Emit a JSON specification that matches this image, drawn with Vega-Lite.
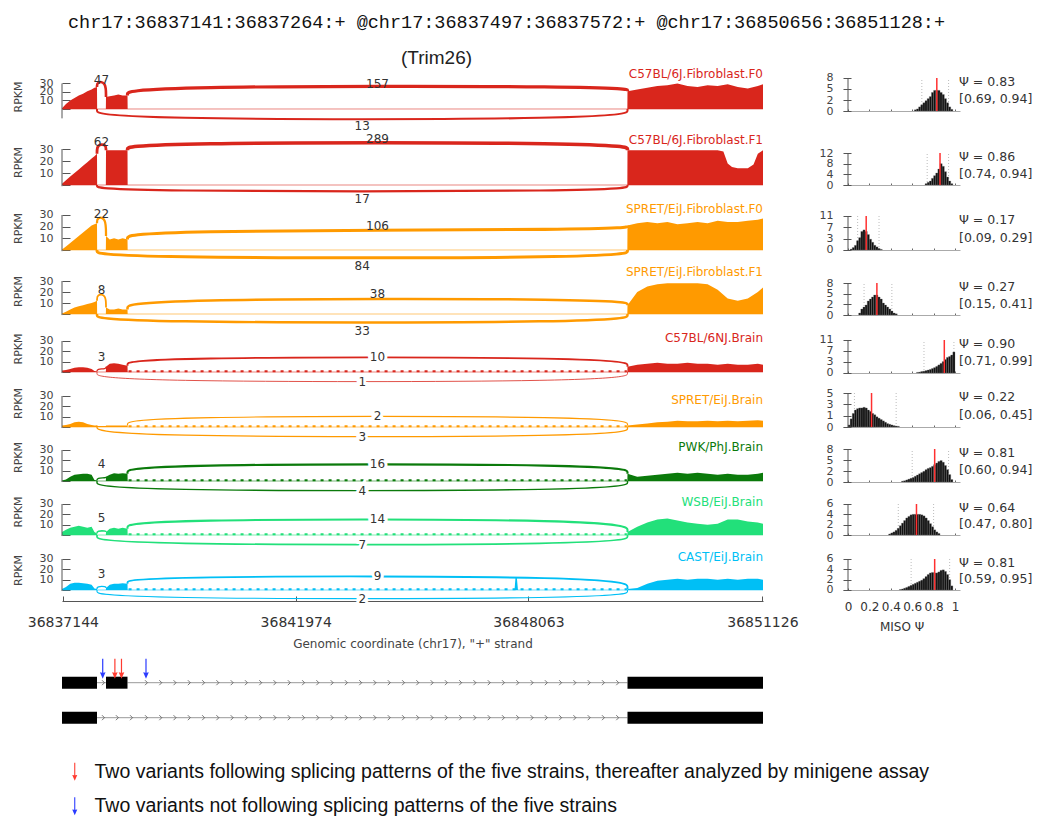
{
"$schema":"https://vega.github.io/schema/vega-lite/v6.json",
"padding":{"left":12,"top":12,"right":0,"bottom":0},
"config":{"view":{"stroke":null},"font":"DejaVu Sans","axis":{"grid":false}},
"title":{"text":"chr17:36837141:36837264:+ @chr17:36837497:36837572:+ @chr17:36850656:36851128:+","font":"Liberation Mono","fontSize":18.5,"fontWeight":"normal","color":"#111","anchor":"start","frame":"group","dx":6,"offset":18},
"datasets":{
"samples":[
{"r":"r1","name":"C57BL/6J.Fibroblast.F0"},{"r":"r2","name":"C57BL/6J.Fibroblast.F1"},{"r":"r3","name":"SPRET/EiJ.Fibroblast.F0"},{"r":"r4","name":"SPRET/EiJ.Fibroblast.F1"},{"r":"r5","name":"C57BL/6NJ.Brain"},{"r":"r6","name":"SPRET/EiJ.Brain"},{"r":"r7","name":"PWK/PhJ.Brain"},{"r":"r8","name":"WSB/EiJ.Brain"},{"r":"r9","name":"CAST/EiJ.Brain"}],
"cov":[
{"r":"r1","x":36837141,"y":1},{"r":"r1","x":36837155,"y":6},{"r":"r1","x":36837170,"y":10},{"r":"r1","x":36837185,"y":13},{"r":"r1","x":36837200,"y":16},{"r":"r1","x":36837215,"y":18},{"r":"r1","x":36837230,"y":21},{"r":"r1","x":36837245,"y":23},{"r":"r1","x":36837255,"y":25},{"r":"r1","x":36837264,"y":26},{"r":"r1","x":36837268,"y":0},{"r":"r1","x":36837493,"y":0},{"r":"r1","x":36837497,"y":14},{"r":"r1","x":36837510,"y":15},{"r":"r1","x":36837525,"y":16},{"r":"r1","x":36837540,"y":17},{"r":"r1","x":36837555,"y":16},{"r":"r1","x":36837572,"y":16},{"r":"r1","x":36837576,"y":0},{"r":"r1","x":36850652,"y":0},{"r":"r1","x":36850656,"y":21},{"r":"r1","x":36850690,"y":23},{"r":"r1","x":36850725,"y":25},{"r":"r1","x":36850760,"y":27},{"r":"r1","x":36850795,"y":28},{"r":"r1","x":36850830,"y":30},{"r":"r1","x":36850865,"y":27},{"r":"r1","x":36850900,"y":26},{"r":"r1","x":36850935,"y":28},{"r":"r1","x":36850970,"y":27},{"r":"r1","x":36851005,"y":29},{"r":"r1","x":36851040,"y":26},{"r":"r1","x":36851075,"y":24},{"r":"r1","x":36851110,"y":27},{"r":"r1","x":36851128,"y":29},
{"r":"r2","x":36837141,"y":1},{"r":"r2","x":36837155,"y":4},{"r":"r2","x":36837170,"y":7},{"r":"r2","x":36837185,"y":10},{"r":"r2","x":36837200,"y":13},{"r":"r2","x":36837215,"y":16},{"r":"r2","x":36837230,"y":19},{"r":"r2","x":36837245,"y":22},{"r":"r2","x":36837255,"y":24},{"r":"r2","x":36837264,"y":26},{"r":"r2","x":36837268,"y":0},{"r":"r2","x":36837493,"y":0},{"r":"r2","x":36837497,"y":29},{"r":"r2","x":36837510,"y":29},{"r":"r2","x":36837525,"y":29},{"r":"r2","x":36837540,"y":29},{"r":"r2","x":36837555,"y":29},{"r":"r2","x":36837572,"y":29},{"r":"r2","x":36837576,"y":0},{"r":"r2","x":36850652,"y":0},{"r":"r2","x":36850656,"y":29},{"r":"r2","x":36850690,"y":29},{"r":"r2","x":36850725,"y":29},{"r":"r2","x":36850760,"y":29},{"r":"r2","x":36850795,"y":29},{"r":"r2","x":36850830,"y":29},{"r":"r2","x":36850865,"y":29},{"r":"r2","x":36850900,"y":29},{"r":"r2","x":36850935,"y":29},{"r":"r2","x":36850970,"y":29},{"r":"r2","x":36850990,"y":28},{"r":"r2","x":36851005,"y":18},{"r":"r2","x":36851020,"y":15},{"r":"r2","x":36851040,"y":14},{"r":"r2","x":36851075,"y":14},{"r":"r2","x":36851095,"y":17},{"r":"r2","x":36851110,"y":26},{"r":"r2","x":36851128,"y":29},
{"r":"r3","x":36837141,"y":0.5},{"r":"r3","x":36837155,"y":3},{"r":"r3","x":36837170,"y":6},{"r":"r3","x":36837185,"y":9},{"r":"r3","x":36837200,"y":12},{"r":"r3","x":36837215,"y":15},{"r":"r3","x":36837230,"y":18},{"r":"r3","x":36837245,"y":21},{"r":"r3","x":36837255,"y":22},{"r":"r3","x":36837264,"y":23},{"r":"r3","x":36837268,"y":0},{"r":"r3","x":36837493,"y":0},{"r":"r3","x":36837497,"y":12},{"r":"r3","x":36837510,"y":9},{"r":"r3","x":36837525,"y":10},{"r":"r3","x":36837540,"y":9},{"r":"r3","x":36837555,"y":10},{"r":"r3","x":36837572,"y":9},{"r":"r3","x":36837576,"y":0},{"r":"r3","x":36850652,"y":0},{"r":"r3","x":36850656,"y":21},{"r":"r3","x":36850690,"y":23},{"r":"r3","x":36850725,"y":24},{"r":"r3","x":36850760,"y":23},{"r":"r3","x":36850795,"y":24},{"r":"r3","x":36850830,"y":22},{"r":"r3","x":36850865,"y":23},{"r":"r3","x":36850900,"y":24},{"r":"r3","x":36850935,"y":23},{"r":"r3","x":36850970,"y":25},{"r":"r3","x":36851005,"y":24},{"r":"r3","x":36851040,"y":24},{"r":"r3","x":36851075,"y":25},{"r":"r3","x":36851110,"y":26},{"r":"r3","x":36851128,"y":27},
{"r":"r4","x":36837141,"y":0.5},{"r":"r4","x":36837155,"y":2},{"r":"r4","x":36837170,"y":4},{"r":"r4","x":36837185,"y":6},{"r":"r4","x":36837200,"y":7},{"r":"r4","x":36837215,"y":8},{"r":"r4","x":36837230,"y":9},{"r":"r4","x":36837245,"y":10},{"r":"r4","x":36837255,"y":11},{"r":"r4","x":36837264,"y":12},{"r":"r4","x":36837268,"y":0},{"r":"r4","x":36837493,"y":0},{"r":"r4","x":36837497,"y":6},{"r":"r4","x":36837510,"y":4},{"r":"r4","x":36837525,"y":4},{"r":"r4","x":36837540,"y":5},{"r":"r4","x":36837555,"y":4},{"r":"r4","x":36837572,"y":4},{"r":"r4","x":36837576,"y":0},{"r":"r4","x":36850652,"y":0},{"r":"r4","x":36850656,"y":8},{"r":"r4","x":36850690,"y":20},{"r":"r4","x":36850725,"y":25},{"r":"r4","x":36850760,"y":27},{"r":"r4","x":36850795,"y":28},{"r":"r4","x":36850830,"y":28},{"r":"r4","x":36850865,"y":28},{"r":"r4","x":36850900,"y":28},{"r":"r4","x":36850935,"y":27},{"r":"r4","x":36850970,"y":22},{"r":"r4","x":36851005,"y":14},{"r":"r4","x":36851040,"y":12},{"r":"r4","x":36851075,"y":14},{"r":"r4","x":36851110,"y":20},{"r":"r4","x":36851128,"y":24},
{"r":"r5","x":36837141,"y":1.5},{"r":"r5","x":36837155,"y":2},{"r":"r5","x":36837170,"y":3},{"r":"r5","x":36837185,"y":4},{"r":"r5","x":36837200,"y":4.5},{"r":"r5","x":36837215,"y":4.5},{"r":"r5","x":36837230,"y":4},{"r":"r5","x":36837245,"y":3},{"r":"r5","x":36837255,"y":1},{"r":"r5","x":36837264,"y":0.5},{"r":"r5","x":36837268,"y":0},{"r":"r5","x":36837493,"y":0},{"r":"r5","x":36837497,"y":5},{"r":"r5","x":36837510,"y":8},{"r":"r5","x":36837525,"y":8.5},{"r":"r5","x":36837540,"y":8},{"r":"r5","x":36837555,"y":7},{"r":"r5","x":36837572,"y":6},{"r":"r5","x":36837576,"y":0},{"r":"r5","x":36850652,"y":0},{"r":"r5","x":36850656,"y":5},{"r":"r5","x":36850690,"y":7},{"r":"r5","x":36850725,"y":8},{"r":"r5","x":36850760,"y":9},{"r":"r5","x":36850795,"y":8},{"r":"r5","x":36850830,"y":8},{"r":"r5","x":36850865,"y":9},{"r":"r5","x":36850900,"y":8},{"r":"r5","x":36850935,"y":8},{"r":"r5","x":36850970,"y":7},{"r":"r5","x":36851005,"y":8},{"r":"r5","x":36851040,"y":7},{"r":"r5","x":36851075,"y":7},{"r":"r5","x":36851110,"y":8},{"r":"r5","x":36851128,"y":7},
{"r":"r6","x":36837141,"y":1.5},{"r":"r6","x":36837155,"y":2},{"r":"r6","x":36837170,"y":3},{"r":"r6","x":36837185,"y":4.5},{"r":"r6","x":36837200,"y":5},{"r":"r6","x":36837215,"y":4.5},{"r":"r6","x":36837230,"y":3},{"r":"r6","x":36837245,"y":2},{"r":"r6","x":36837255,"y":1.5},{"r":"r6","x":36837264,"y":1.5},{"r":"r6","x":36837268,"y":1},{"r":"r6","x":36837493,"y":1},{"r":"r6","x":36837497,"y":1.5},{"r":"r6","x":36837510,"y":1.5},{"r":"r6","x":36837525,"y":1.5},{"r":"r6","x":36837540,"y":1.5},{"r":"r6","x":36837555,"y":1.5},{"r":"r6","x":36837572,"y":1.5},{"r":"r6","x":36837576,"y":0},{"r":"r6","x":36850652,"y":0},{"r":"r6","x":36850656,"y":1.5},{"r":"r6","x":36850690,"y":2.5},{"r":"r6","x":36850725,"y":3.5},{"r":"r6","x":36850760,"y":4.5},{"r":"r6","x":36850795,"y":5},{"r":"r6","x":36850830,"y":6},{"r":"r6","x":36850865,"y":5.5},{"r":"r6","x":36850900,"y":5.5},{"r":"r6","x":36850935,"y":6},{"r":"r6","x":36850970,"y":5.5},{"r":"r6","x":36851005,"y":6},{"r":"r6","x":36851040,"y":5.5},{"r":"r6","x":36851075,"y":6},{"r":"r6","x":36851110,"y":6.5},{"r":"r6","x":36851128,"y":6},
{"r":"r7","x":36837141,"y":0.5},{"r":"r7","x":36837155,"y":1.5},{"r":"r7","x":36837170,"y":4},{"r":"r7","x":36837185,"y":6},{"r":"r7","x":36837200,"y":6.5},{"r":"r7","x":36837215,"y":7},{"r":"r7","x":36837230,"y":7},{"r":"r7","x":36837245,"y":6},{"r":"r7","x":36837255,"y":1},{"r":"r7","x":36837264,"y":0.5},{"r":"r7","x":36837268,"y":0},{"r":"r7","x":36837493,"y":0},{"r":"r7","x":36837497,"y":4},{"r":"r7","x":36837510,"y":6},{"r":"r7","x":36837525,"y":7.5},{"r":"r7","x":36837540,"y":7},{"r":"r7","x":36837555,"y":7.5},{"r":"r7","x":36837572,"y":7},{"r":"r7","x":36837576,"y":0},{"r":"r7","x":36850652,"y":0},{"r":"r7","x":36850656,"y":7},{"r":"r7","x":36850690,"y":4},{"r":"r7","x":36850725,"y":5},{"r":"r7","x":36850760,"y":6},{"r":"r7","x":36850795,"y":7},{"r":"r7","x":36850830,"y":8},{"r":"r7","x":36850865,"y":7},{"r":"r7","x":36850900,"y":8},{"r":"r7","x":36850935,"y":7},{"r":"r7","x":36850970,"y":6},{"r":"r7","x":36851005,"y":7},{"r":"r7","x":36851040,"y":6},{"r":"r7","x":36851075,"y":6},{"r":"r7","x":36851110,"y":7},{"r":"r7","x":36851128,"y":8},
{"r":"r8","x":36837141,"y":3},{"r":"r8","x":36837155,"y":5},{"r":"r8","x":36837170,"y":7},{"r":"r8","x":36837185,"y":8},{"r":"r8","x":36837200,"y":9},{"r":"r8","x":36837215,"y":8},{"r":"r8","x":36837230,"y":7},{"r":"r8","x":36837245,"y":8},{"r":"r8","x":36837255,"y":3},{"r":"r8","x":36837264,"y":1.5},{"r":"r8","x":36837268,"y":0},{"r":"r8","x":36837493,"y":0},{"r":"r8","x":36837497,"y":3},{"r":"r8","x":36837510,"y":6},{"r":"r8","x":36837525,"y":7},{"r":"r8","x":36837540,"y":6},{"r":"r8","x":36837555,"y":7},{"r":"r8","x":36837572,"y":6},{"r":"r8","x":36837576,"y":0},{"r":"r8","x":36850652,"y":0},{"r":"r8","x":36850656,"y":3},{"r":"r8","x":36850690,"y":8},{"r":"r8","x":36850725,"y":12},{"r":"r8","x":36850760,"y":15},{"r":"r8","x":36850795,"y":16},{"r":"r8","x":36850830,"y":14},{"r":"r8","x":36850865,"y":12},{"r":"r8","x":36850900,"y":11},{"r":"r8","x":36850935,"y":10},{"r":"r8","x":36850970,"y":11},{"r":"r8","x":36851005,"y":15},{"r":"r8","x":36851040,"y":15},{"r":"r8","x":36851075,"y":13},{"r":"r8","x":36851110,"y":12},{"r":"r8","x":36851128,"y":11},
{"r":"r9","x":36837141,"y":1},{"r":"r9","x":36837155,"y":3},{"r":"r9","x":36837170,"y":6},{"r":"r9","x":36837185,"y":7},{"r":"r9","x":36837200,"y":7},{"r":"r9","x":36837215,"y":6.5},{"r":"r9","x":36837230,"y":6},{"r":"r9","x":36837245,"y":5},{"r":"r9","x":36837255,"y":1.5},{"r":"r9","x":36837264,"y":1},{"r":"r9","x":36837268,"y":0},{"r":"r9","x":36837493,"y":0},{"r":"r9","x":36837497,"y":2},{"r":"r9","x":36837510,"y":5},{"r":"r9","x":36837525,"y":6},{"r":"r9","x":36837540,"y":6},{"r":"r9","x":36837555,"y":6.5},{"r":"r9","x":36837572,"y":6},{"r":"r9","x":36837576,"y":0},{"r":"r9","x":36847700,"y":0},{"r":"r9","x":36847725,"y":12},{"r":"r9","x":36847760,"y":12},{"r":"r9","x":36847790,"y":0},{"r":"r9","x":36850652,"y":0},{"r":"r9","x":36850656,"y":1},{"r":"r9","x":36850690,"y":2},{"r":"r9","x":36850725,"y":6},{"r":"r9","x":36850760,"y":9},{"r":"r9","x":36850795,"y":10},{"r":"r9","x":36850830,"y":11},{"r":"r9","x":36850865,"y":10},{"r":"r9","x":36850900,"y":11},{"r":"r9","x":36850935,"y":11},{"r":"r9","x":36850970,"y":10},{"r":"r9","x":36851005,"y":11},{"r":"r9","x":36851040,"y":10},{"r":"r9","x":36851075,"y":11},{"r":"r9","x":36851110,"y":11},{"r":"r9","x":36851128,"y":10}],
"arcs":[
{"r":"r1","j":"a","k":0,"x":36837264,"y":26,"n":47},{"r":"r1","j":"a","k":1,"x":36837264,"y":32,"n":47},{"r":"r1","j":"a","k":2,"x":36837497,"y":32,"n":47},{"r":"r1","j":"a","k":3,"x":36837497,"y":14,"n":47},
{"r":"r1","j":"b","k":0,"x":36837572,"y":16,"n":157},{"r":"r1","j":"b","k":1,"x":36837572,"y":27,"n":157},{"r":"r1","j":"b","k":2,"x":36850656,"y":27,"n":157},{"r":"r1","j":"b","k":3,"x":36850656,"y":21,"n":157},
{"r":"r1","j":"c","k":0,"x":36837264,"y":0,"n":13},{"r":"r1","j":"c","k":1,"x":36837264,"y":-12.5,"n":13},{"r":"r1","j":"c","k":2,"x":36850656,"y":-12.5,"n":13},{"r":"r1","j":"c","k":3,"x":36850656,"y":0,"n":13},
{"r":"r2","j":"a","k":0,"x":36837264,"y":26,"n":62},{"r":"r2","j":"a","k":1,"x":36837264,"y":34,"n":62},{"r":"r2","j":"a","k":2,"x":36837497,"y":34,"n":62},{"r":"r2","j":"a","k":3,"x":36837497,"y":29,"n":62},
{"r":"r2","j":"b","k":0,"x":36837572,"y":29,"n":289},{"r":"r2","j":"b","k":1,"x":36837572,"y":35.5,"n":289},{"r":"r2","j":"b","k":2,"x":36850656,"y":35.5,"n":289},{"r":"r2","j":"b","k":3,"x":36850656,"y":29,"n":289},
{"r":"r2","j":"c","k":0,"x":36837264,"y":0,"n":17},{"r":"r2","j":"c","k":1,"x":36837264,"y":-5.5,"n":17},{"r":"r2","j":"c","k":2,"x":36850656,"y":-5.5,"n":17},{"r":"r2","j":"c","k":3,"x":36850656,"y":0,"n":17},
{"r":"r3","j":"a","k":0,"x":36837264,"y":23,"n":22},{"r":"r3","j":"a","k":1,"x":36837264,"y":28,"n":22},{"r":"r3","j":"a","k":2,"x":36837497,"y":28,"n":22},{"r":"r3","j":"a","k":3,"x":36837497,"y":12,"n":22},
{"r":"r3","j":"b","k":0,"x":36837572,"y":9,"n":106},{"r":"r3","j":"b","k":1,"x":36837572,"y":17,"n":106},{"r":"r3","j":"b","k":2,"x":36850656,"y":17,"n":106},{"r":"r3","j":"b","k":3,"x":36850656,"y":21,"n":106},
{"r":"r3","j":"c","k":0,"x":36837264,"y":0,"n":84},{"r":"r3","j":"c","k":1,"x":36837264,"y":-7,"n":84},{"r":"r3","j":"c","k":2,"x":36850656,"y":-7,"n":84},{"r":"r3","j":"c","k":3,"x":36850656,"y":0,"n":84},
{"r":"r4","j":"a","k":0,"x":36837264,"y":12,"n":8},{"r":"r4","j":"a","k":1,"x":36837264,"y":18,"n":8},{"r":"r4","j":"a","k":2,"x":36837497,"y":18,"n":8},{"r":"r4","j":"a","k":3,"x":36837497,"y":6,"n":8},
{"r":"r4","j":"b","k":0,"x":36837572,"y":4,"n":38},{"r":"r4","j":"b","k":1,"x":36837572,"y":14,"n":38},{"r":"r4","j":"b","k":2,"x":36850656,"y":14,"n":38},{"r":"r4","j":"b","k":3,"x":36850656,"y":8,"n":38},
{"r":"r4","j":"c","k":0,"x":36837264,"y":0,"n":33},{"r":"r4","j":"c","k":1,"x":36837264,"y":-8,"n":33},{"r":"r4","j":"c","k":2,"x":36850656,"y":-8,"n":33},{"r":"r4","j":"c","k":3,"x":36850656,"y":0,"n":33},
{"r":"r5","j":"a","k":0,"x":36837264,"y":0.5,"n":3},{"r":"r5","j":"a","k":1,"x":36837264,"y":3,"n":3},{"r":"r5","j":"a","k":2,"x":36837497,"y":3,"n":3},{"r":"r5","j":"a","k":3,"x":36837497,"y":5,"n":3},
{"r":"r5","j":"b","k":0,"x":36837572,"y":6,"n":10},{"r":"r5","j":"b","k":1,"x":36837572,"y":14.5,"n":10},{"r":"r5","j":"b","k":2,"x":36850656,"y":14.5,"n":10},{"r":"r5","j":"b","k":3,"x":36850656,"y":5,"n":10},
{"r":"r5","j":"c","k":0,"x":36837264,"y":0,"n":1},{"r":"r5","j":"c","k":1,"x":36837264,"y":-9.7,"n":1},{"r":"r5","j":"c","k":2,"x":36850656,"y":-9.7,"n":1},{"r":"r5","j":"c","k":3,"x":36850656,"y":0,"n":1},
{"r":"r6","j":"b","k":0,"x":36837572,"y":1.5,"n":2},{"r":"r6","j":"b","k":1,"x":36837572,"y":10.6,"n":2},{"r":"r6","j":"b","k":2,"x":36850656,"y":10.6,"n":2},{"r":"r6","j":"b","k":3,"x":36850656,"y":1.5,"n":2},
{"r":"r6","j":"c","k":0,"x":36837264,"y":1.5,"n":3},{"r":"r6","j":"c","k":1,"x":36837264,"y":-9.7,"n":3},{"r":"r6","j":"c","k":2,"x":36850656,"y":-9.7,"n":3},{"r":"r6","j":"c","k":3,"x":36850656,"y":0,"n":3},
{"r":"r7","j":"a","k":0,"x":36837264,"y":0.5,"n":4},{"r":"r7","j":"a","k":1,"x":36837264,"y":3,"n":4},{"r":"r7","j":"a","k":2,"x":36837497,"y":3,"n":4},{"r":"r7","j":"a","k":3,"x":36837497,"y":4,"n":4},
{"r":"r7","j":"b","k":0,"x":36837572,"y":7,"n":16},{"r":"r7","j":"b","k":1,"x":36837572,"y":16.5,"n":16},{"r":"r7","j":"b","k":2,"x":36850656,"y":16.5,"n":16},{"r":"r7","j":"b","k":3,"x":36850656,"y":7,"n":16},
{"r":"r7","j":"c","k":0,"x":36837264,"y":0,"n":4},{"r":"r7","j":"c","k":1,"x":36837264,"y":-9.7,"n":4},{"r":"r7","j":"c","k":2,"x":36850656,"y":-9.7,"n":4},{"r":"r7","j":"c","k":3,"x":36850656,"y":0,"n":4},
{"r":"r8","j":"a","k":0,"x":36837264,"y":1.5,"n":5},{"r":"r8","j":"a","k":1,"x":36837264,"y":4,"n":5},{"r":"r8","j":"a","k":2,"x":36837497,"y":4,"n":5},{"r":"r8","j":"a","k":3,"x":36837497,"y":3,"n":5},
{"r":"r8","j":"b","k":0,"x":36837572,"y":6,"n":14},{"r":"r8","j":"b","k":1,"x":36837572,"y":15.5,"n":14},{"r":"r8","j":"b","k":2,"x":36850656,"y":15.5,"n":14},{"r":"r8","j":"b","k":3,"x":36850656,"y":3,"n":14},
{"r":"r8","j":"c","k":0,"x":36837264,"y":0,"n":7},{"r":"r8","j":"c","k":1,"x":36837264,"y":-9.7,"n":7},{"r":"r8","j":"c","k":2,"x":36850656,"y":-9.7,"n":7},{"r":"r8","j":"c","k":3,"x":36850656,"y":0,"n":7},
{"r":"r9","j":"a","k":0,"x":36837264,"y":1,"n":3},{"r":"r9","j":"a","k":1,"x":36837264,"y":3.5,"n":3},{"r":"r9","j":"a","k":2,"x":36837497,"y":3.5,"n":3},{"r":"r9","j":"a","k":3,"x":36837497,"y":2,"n":3},
{"r":"r9","j":"b","k":0,"x":36837572,"y":6,"n":9},{"r":"r9","j":"b","k":1,"x":36837572,"y":13.5,"n":9},{"r":"r9","j":"b","k":2,"x":36850656,"y":13.5,"n":9},{"r":"r9","j":"b","k":3,"x":36850656,"y":1,"n":9},
{"r":"r9","j":"c","k":0,"x":36837264,"y":0,"n":2},{"r":"r9","j":"c","k":1,"x":36837264,"y":-8.7,"n":2},{"r":"r9","j":"c","k":2,"x":36850656,"y":-8.7,"n":2},{"r":"r9","j":"c","k":3,"x":36850656,"y":0,"n":2}],
"jl":[
{"r":"r1","n":47,"x":36837380,"y":34},{"r":"r1","n":157,"x":36844114,"y":29.5},{"r":"r1","n":13,"x":36843715,"y":-20},
{"r":"r2","n":62,"x":36837380,"y":36},{"r":"r2","n":289,"x":36844114,"y":38.5},{"r":"r2","n":17,"x":36843715,"y":-12},
{"r":"r3","n":22,"x":36837380,"y":30.5},{"r":"r3","n":106,"x":36844114,"y":20.5},{"r":"r3","n":84,"x":36843715,"y":-13.5},
{"r":"r4","n":8,"x":36837380,"y":22},{"r":"r4","n":38,"x":36844114,"y":18},{"r":"r4","n":33,"x":36843715,"y":-15.5},
{"r":"r5","n":3,"x":36837380,"y":14.5},{"r":"r5","n":10,"x":36844114,"y":14.5},{"r":"r5","n":1,"x":36843715,"y":-9.7},
{"r":"r6","n":2,"x":36844114,"y":10.6},{"r":"r6","n":3,"x":36843715,"y":-9.7},
{"r":"r7","n":4,"x":36837380,"y":16.5},{"r":"r7","n":16,"x":36844114,"y":16.5},{"r":"r7","n":4,"x":36843715,"y":-9.7},
{"r":"r8","n":5,"x":36837380,"y":16.5},{"r":"r8","n":14,"x":36844114,"y":15.5},{"r":"r8","n":7,"x":36843715,"y":-9.7},
{"r":"r9","n":3,"x":36837380,"y":15.5},{"r":"r9","n":9,"x":36844114,"y":13.5},{"r":"r9","n":2,"x":36843715,"y":-8.7}],
"hist":[
{"r":"r1","b":0.63,"c":0.3},{"r":"r1","b":0.65,"c":0.5},{"r":"r1","b":0.67,"c":1},{"r":"r1","b":0.69,"c":1.5},{"r":"r1","b":0.71,"c":2},{"r":"r1","b":0.73,"c":2.5},{"r":"r1","b":0.75,"c":3},{"r":"r1","b":0.77,"c":3.5},{"r":"r1","b":0.79,"c":4.5},{"r":"r1","b":0.81,"c":5},{"r":"r1","b":0.83,"c":5},{"r":"r1","b":0.85,"c":5},{"r":"r1","b":0.87,"c":4.5},{"r":"r1","b":0.89,"c":4},{"r":"r1","b":0.91,"c":3},{"r":"r1","b":0.93,"c":2},{"r":"r1","b":0.95,"c":1},{"r":"r1","b":0.97,"c":0.4},
{"r":"r2","b":0.73,"c":0.5},{"r":"r2","b":0.75,"c":1},{"r":"r2","b":0.77,"c":1.5},{"r":"r2","b":0.79,"c":2.5},{"r":"r2","b":0.81,"c":3.5},{"r":"r2","b":0.83,"c":4.5},{"r":"r2","b":0.85,"c":6},{"r":"r2","b":0.87,"c":8},{"r":"r2","b":0.89,"c":7},{"r":"r2","b":0.91,"c":5},{"r":"r2","b":0.93,"c":3},{"r":"r2","b":0.95,"c":1.5},{"r":"r2","b":0.97,"c":0.5},
{"r":"r3","b":0.03,"c":0.3},{"r":"r3","b":0.05,"c":0.8},{"r":"r3","b":0.07,"c":1.5},{"r":"r3","b":0.09,"c":3},{"r":"r3","b":0.11,"c":4},{"r":"r3","b":0.13,"c":6},{"r":"r3","b":0.15,"c":6.5},{"r":"r3","b":0.17,"c":6},{"r":"r3","b":0.19,"c":5},{"r":"r3","b":0.21,"c":3.5},{"r":"r3","b":0.23,"c":2.5},{"r":"r3","b":0.25,"c":1.5},{"r":"r3","b":0.27,"c":1},{"r":"r3","b":0.29,"c":0.5},{"r":"r3","b":0.31,"c":0.2},
{"r":"r4","b":0.11,"c":0.5},{"r":"r4","b":0.13,"c":1.5},{"r":"r4","b":0.15,"c":2},{"r":"r4","b":0.17,"c":2.5},{"r":"r4","b":0.19,"c":3.5},{"r":"r4","b":0.21,"c":4},{"r":"r4","b":0.23,"c":4.5},{"r":"r4","b":0.25,"c":5},{"r":"r4","b":0.27,"c":5},{"r":"r4","b":0.29,"c":4.5},{"r":"r4","b":0.31,"c":4},{"r":"r4","b":0.33,"c":3},{"r":"r4","b":0.35,"c":2.5},{"r":"r4","b":0.37,"c":2},{"r":"r4","b":0.39,"c":1.5},{"r":"r4","b":0.41,"c":1},{"r":"r4","b":0.43,"c":0.5},{"r":"r4","b":0.45,"c":0.3},
{"r":"r5","b":0.65,"c":0.2},{"r":"r5","b":0.67,"c":0.3},{"r":"r5","b":0.69,"c":0.5},{"r":"r5","b":0.71,"c":0.6},{"r":"r5","b":0.73,"c":0.8},{"r":"r5","b":0.75,"c":1},{"r":"r5","b":0.77,"c":1.2},{"r":"r5","b":0.79,"c":1.5},{"r":"r5","b":0.81,"c":1.8},{"r":"r5","b":0.83,"c":2.2},{"r":"r5","b":0.85,"c":2.7},{"r":"r5","b":0.87,"c":3.2},{"r":"r5","b":0.89,"c":3.8},{"r":"r5","b":0.91,"c":4.5},{"r":"r5","b":0.93,"c":5.2},{"r":"r5","b":0.95,"c":5.5},{"r":"r5","b":0.97,"c":6},{"r":"r5","b":0.99,"c":7},
{"r":"r6","b":0.01,"c":0.3},{"r":"r6","b":0.03,"c":1.2},{"r":"r6","b":0.05,"c":2},{"r":"r6","b":0.07,"c":2.5},{"r":"r6","b":0.09,"c":2.7},{"r":"r6","b":0.11,"c":2.8},{"r":"r6","b":0.13,"c":2.8},{"r":"r6","b":0.15,"c":2.9},{"r":"r6","b":0.17,"c":2.8},{"r":"r6","b":0.19,"c":2.5},{"r":"r6","b":0.21,"c":2.3},{"r":"r6","b":0.23,"c":2},{"r":"r6","b":0.25,"c":1.8},{"r":"r6","b":0.27,"c":1.5},{"r":"r6","b":0.29,"c":1.3},{"r":"r6","b":0.31,"c":1.1},{"r":"r6","b":0.33,"c":0.9},{"r":"r6","b":0.35,"c":0.7},{"r":"r6","b":0.37,"c":0.5},{"r":"r6","b":0.39,"c":0.4},{"r":"r6","b":0.41,"c":0.3},{"r":"r6","b":0.43,"c":0.2},{"r":"r6","b":0.45,"c":0.15},{"r":"r6","b":0.47,"c":0.1},
{"r":"r7","b":0.51,"c":0.2},{"r":"r7","b":0.53,"c":0.3},{"r":"r7","b":0.55,"c":0.5},{"r":"r7","b":0.57,"c":0.7},{"r":"r7","b":0.59,"c":0.9},{"r":"r7","b":0.61,"c":1.1},{"r":"r7","b":0.63,"c":1.4},{"r":"r7","b":0.65,"c":1.7},{"r":"r7","b":0.67,"c":2},{"r":"r7","b":0.69,"c":2.3},{"r":"r7","b":0.71,"c":2.6},{"r":"r7","b":0.73,"c":3},{"r":"r7","b":0.75,"c":3.3},{"r":"r7","b":0.77,"c":3.5},{"r":"r7","b":0.79,"c":3.8},{"r":"r7","b":0.81,"c":4.2},{"r":"r7","b":0.83,"c":4.6},{"r":"r7","b":0.85,"c":5},{"r":"r7","b":0.87,"c":5.2},{"r":"r7","b":0.89,"c":4.8},{"r":"r7","b":0.91,"c":4},{"r":"r7","b":0.93,"c":3},{"r":"r7","b":0.95,"c":1.8},{"r":"r7","b":0.97,"c":0.6},
{"r":"r8","b":0.39,"c":0.2},{"r":"r8","b":0.41,"c":0.4},{"r":"r8","b":0.43,"c":0.6},{"r":"r8","b":0.45,"c":0.9},{"r":"r8","b":0.47,"c":1.3},{"r":"r8","b":0.49,"c":1.8},{"r":"r8","b":0.51,"c":2.3},{"r":"r8","b":0.53,"c":2.8},{"r":"r8","b":0.55,"c":3.3},{"r":"r8","b":0.57,"c":3.6},{"r":"r8","b":0.59,"c":3.9},{"r":"r8","b":0.61,"c":4},{"r":"r8","b":0.63,"c":4},{"r":"r8","b":0.65,"c":4},{"r":"r8","b":0.67,"c":4},{"r":"r8","b":0.69,"c":3.9},{"r":"r8","b":0.71,"c":3.7},{"r":"r8","b":0.73,"c":3.3},{"r":"r8","b":0.75,"c":2.8},{"r":"r8","b":0.77,"c":2.2},{"r":"r8","b":0.79,"c":1.6},{"r":"r8","b":0.81,"c":1},{"r":"r8","b":0.83,"c":0.6},{"r":"r8","b":0.85,"c":0.3},
{"r":"r9","b":0.49,"c":0.1},{"r":"r9","b":0.51,"c":0.2},{"r":"r9","b":0.53,"c":0.35},{"r":"r9","b":0.55,"c":0.5},{"r":"r9","b":0.57,"c":0.7},{"r":"r9","b":0.59,"c":0.9},{"r":"r9","b":0.61,"c":1.1},{"r":"r9","b":0.63,"c":1.3},{"r":"r9","b":0.65,"c":1.5},{"r":"r9","b":0.67,"c":1.7},{"r":"r9","b":0.69,"c":1.9},{"r":"r9","b":0.71,"c":2.2},{"r":"r9","b":0.73,"c":2.6},{"r":"r9","b":0.75,"c":3},{"r":"r9","b":0.77,"c":3.3},{"r":"r9","b":0.79,"c":3.4},{"r":"r9","b":0.81,"c":3.3},{"r":"r9","b":0.83,"c":3.3},{"r":"r9","b":0.85,"c":3.5},{"r":"r9","b":0.87,"c":3.8},{"r":"r9","b":0.89,"c":3.9},{"r":"r9","b":0.91,"c":3.6},{"r":"r9","b":0.93,"c":3},{"r":"r9","b":0.95,"c":2},{"r":"r9","b":0.97,"c":0.8}],
"psi":[
{"r":"r1","psi":0.83,"lo":0.69,"hi":0.94,"t1":"Ψ = 0.83","t2":"[0.69, 0.94]"},
{"r":"r2","psi":0.86,"lo":0.74,"hi":0.94,"t1":"Ψ = 0.86","t2":"[0.74, 0.94]"},
{"r":"r3","psi":0.17,"lo":0.09,"hi":0.29,"t1":"Ψ = 0.17","t2":"[0.09, 0.29]"},
{"r":"r4","psi":0.27,"lo":0.15,"hi":0.41,"t1":"Ψ = 0.27","t2":"[0.15, 0.41]"},
{"r":"r5","psi":0.90,"lo":0.71,"hi":0.99,"t1":"Ψ = 0.90","t2":"[0.71, 0.99]"},
{"r":"r6","psi":0.22,"lo":0.06,"hi":0.45,"t1":"Ψ = 0.22","t2":"[0.06, 0.45]"},
{"r":"r7","psi":0.81,"lo":0.60,"hi":0.94,"t1":"Ψ = 0.81","t2":"[0.60, 0.94]"},
{"r":"r8","psi":0.64,"lo":0.47,"hi":0.80,"t1":"Ψ = 0.64","t2":"[0.47, 0.80]"},
{"r":"r9","psi":0.81,"lo":0.59,"hi":0.95,"t1":"Ψ = 0.81","t2":"[0.59, 0.95]"}],
"exons":[{"t":"t1","s":36837141,"e":36837264},{"t":"t1","s":36837497,"e":36837572},{"t":"t1","s":36850656,"e":36851128},{"t":"t2","s":36837141,"e":36837264},{"t":"t2","s":36850656,"e":36851128}],
"introns":[{"t":"t1","s":36837264,"e":36837497},{"t":"t1","s":36837572,"e":36850656},{"t":"t2","s":36837264,"e":36850656}],
"chev":[
{"t":"t1","x":36837419},{"t":"t2","x":36837419},{"t":"t2","x":36837535},{"t":"t2","x":36837664},
{"t":"t1","x":36838056},{"t":"t1","x":36838430},{"t":"t1","x":36838803},{"t":"t1","x":36839177},{"t":"t1","x":36839551},{"t":"t1","x":36839924},{"t":"t1","x":36840298},{"t":"t1","x":36840672},{"t":"t1","x":36841046},{"t":"t1","x":36841419},{"t":"t1","x":36841793},{"t":"t1","x":36842167},{"t":"t1","x":36842540},{"t":"t1","x":36842914},{"t":"t1","x":36843288},{"t":"t1","x":36843662},{"t":"t1","x":36844035},{"t":"t1","x":36844409},{"t":"t1","x":36844783},{"t":"t1","x":36845156},{"t":"t1","x":36845530},{"t":"t1","x":36845904},{"t":"t1","x":36846277},{"t":"t1","x":36846651},{"t":"t1","x":36847025},{"t":"t1","x":36847398},{"t":"t1","x":36847772},{"t":"t1","x":36848146},{"t":"t1","x":36848520},{"t":"t1","x":36848893},{"t":"t1","x":36849267},{"t":"t1","x":36849641},{"t":"t1","x":36850014},{"t":"t1","x":36850388},
{"t":"t2","x":36838056},{"t":"t2","x":36838430},{"t":"t2","x":36838803},{"t":"t2","x":36839177},{"t":"t2","x":36839551},{"t":"t2","x":36839924},{"t":"t2","x":36840298},{"t":"t2","x":36840672},{"t":"t2","x":36841046},{"t":"t2","x":36841419},{"t":"t2","x":36841793},{"t":"t2","x":36842167},{"t":"t2","x":36842540},{"t":"t2","x":36842914},{"t":"t2","x":36843288},{"t":"t2","x":36843662},{"t":"t2","x":36844035},{"t":"t2","x":36844409},{"t":"t2","x":36844783},{"t":"t2","x":36845156},{"t":"t2","x":36845530},{"t":"t2","x":36845904},{"t":"t2","x":36846277},{"t":"t2","x":36846651},{"t":"t2","x":36847025},{"t":"t2","x":36847398},{"t":"t2","x":36847772},{"t":"t2","x":36848146},{"t":"t2","x":36848520},{"t":"t2","x":36848893},{"t":"t2","x":36849267},{"t":"t2","x":36849641},{"t":"t2","x":36850014},{"t":"t2","x":36850388}],
"vars":[
{"t":"t1","x":36837412,"kind":"Two variants not following splicing patterns of the five strains"},
{"t":"t1","x":36837528,"kind":"Two variants following splicing patterns of the five strains, thereafter analyzed by minigene assay"},
{"t":"t1","x":36837551,"kind":"Two variants following splicing patterns of the five strains, thereafter analyzed by minigene assay"},
{"t":"t1","x":36838056,"kind":"Two variants not following splicing patterns of the five strains"}]
},
"columns":2,
"spacing":{"row":0,"column":80},
"bounds":"flush",
"concat":[
  {"width":701,"height":65,
   "title":{"text":"(Trim26)","font":"Liberation Sans","fontSize":19,"fontWeight":"normal","color":"#222","anchor":"middle","frame":"group","dx":24,"offset":-4},
   "resolve":{"axis":{"x":"independent","y":"independent"}},
   "layer":[
    {"data":{"name":"cov"},"transform":[{"filter":"datum.r=='r1'"}],"mark":{"type":"area","color":"#d9261c","clip":false},"encoding":{"x":{"field":"x","type":"quantitative","scale":{"domain":[36837141,36837264,36837497,36837572,36850656,36851128],"range":[0,35,44,65.5,565.5,701],"nice":false,"zero":false},"axis":null},"y":{"field":"y","type":"quantitative","scale":{"domain":[-23.53,52.94],"nice":false,"zero":false},"axis":{"values":[0,10,20,30],"labelExpr":"datum.value==0?'':datum.label","domain":false,"tickSize":-8,"tickColor":"#555","labelPadding":17,"labelFont":"DejaVu Sans","labelFontSize":11,"labelColor":"#444","labelOverlap":false,"labelBound":false,"title":"RPKM","titleFont":"DejaVu Sans","titleFontSize":11,"titleFontWeight":"normal","titleColor":"#444","titleX":-39,"grid":false}},"y2":{"datum":0}}},
    {"data":{"name":"samples"},"transform":[{"filter":"datum.r=='r1'"}],"mark":{"type":"rule","color":"#d9261c","strokeWidth":1,"opacity":0.55},"encoding":{"x":{"datum":36837141,"type":"quantitative","axis":null},"x2":{"datum":36851128},"y":{"datum":0,"type":"quantitative","axis":null}}},
    {"data":{"name":"arcs"},"transform":[{"filter":"datum.r=='r1'"}],"mark":{"type":"line","color":"#d9261c","interpolate":"basis","clip":false},"encoding":{"x":{"field":"x","type":"quantitative","axis":null},"y":{"field":"y","type":"quantitative","axis":null},"detail":{"field":"j"},"order":{"field":"k"},"strokeWidth":{"field":"n","type":"quantitative","scale":{"type":"log","domain":[1,289],"range":[0.8,3.5]},"legend":null}}},
    {"data":{"name":"jl"},"transform":[{"filter":"datum.r=='r1'"}],"mark":{"type":"text","font":"DejaVu Sans","fontSize":12,"color":"#333"},"encoding":{"x":{"field":"x","type":"quantitative","axis":null},"y":{"field":"y","type":"quantitative","axis":null},"text":{"field":"n"}}},
    {"data":{"name":"samples"},"transform":[{"filter":"datum.r=='r1'"}],"mark":{"type":"text","align":"right","font":"DejaVu Sans","fontSize":12,"color":"#d9261c"},"encoding":{"x":{"datum":36851128,"type":"quantitative","axis":null},"y":{"datum":41,"type":"quantitative","axis":null},"text":{"field":"name"}}},
    {"data":{"name":"samples"},"transform":[{"filter":"datum.r=='r1'"}],"mark":{"type":"rule","color":"#555","strokeWidth":1},"encoding":{"x":{"datum":36837141,"type":"quantitative","axis":null},"y":{"datum":-11,"type":"quantitative","axis":null},"y2":{"datum":30}}}
   ]},
  {"width":117,"height":65,
   "resolve":{"axis":{"x":"independent","y":"independent"}},
   "layer":[
    {"data":{"name":"psi"},"transform":[{"filter":"datum.r=='r1'"}],"mark":{"type":"rule","color":"#bbb","strokeDash":[1,2],"strokeWidth":1},"encoding":{"x":{"field":"lo","type":"quantitative","scale":{"domain":[0,1],"nice":false,"zero":false},"axis":null},"y":{"datum":0,"type":"quantitative","scale":{"domain":[-4.36,11.39],"nice":false,"zero":false},"axis":null},"y2":{"datum":8}}},
    {"data":{"name":"psi"},"transform":[{"filter":"datum.r=='r1'"}],"mark":{"type":"rule","color":"#bbb","strokeDash":[1,2],"strokeWidth":1},"encoding":{"x":{"field":"hi","type":"quantitative","axis":null},"y":{"datum":0,"type":"quantitative","axis":null},"y2":{"datum":8}}},
    {"data":{"name":"hist"},"transform":[{"filter":"datum.r=='r1'"}],"mark":{"type":"bar","fill":"#111","stroke":"#777","strokeWidth":0.3,"width":2.2},"encoding":{"x":{"field":"b","type":"quantitative","axis":{"values":[0,0.2,0.4,0.6,0.8,1],"labels":false,"title":null,"offset":-18,"tickSize":-2,"tickColor":"#666","domainColor":"#aaa","grid":false}},"y":{"field":"c","type":"quantitative","axis":{"values":[0,2.6667,5.3333,8],"labelExpr":"''+floor(datum.value)","domain":false,"tickSize":-8,"tickColor":"#555","labelPadding":18,"labelFont":"DejaVu Sans","labelFontSize":11,"labelColor":"#444","labelOverlap":false,"labelBound":false,"title":null,"grid":false}},"y2":{"datum":0}}},
    {"data":{"name":"psi"},"transform":[{"filter":"datum.r=='r1'"}],"mark":{"type":"rule","color":"#ff3030","strokeWidth":1.5},"encoding":{"x":{"field":"psi","type":"quantitative","axis":null},"y":{"datum":0,"type":"quantitative","axis":null},"y2":{"datum":8}}},
    {"data":{"name":"psi"},"transform":[{"filter":"datum.r=='r1'"}],"mark":{"type":"rule","color":"#555","strokeWidth":1},"encoding":{"x":{"datum":0,"type":"quantitative","axis":null},"y":{"datum":0,"type":"quantitative","axis":null},"y2":{"datum":8}}},
    {"data":{"name":"psi"},"transform":[{"filter":"datum.r=='r1'"}],"mark":{"type":"text","align":"left","dx":4,"font":"DejaVu Sans","fontSize":12.5,"color":"#333"},"encoding":{"x":{"datum":1,"type":"quantitative","axis":null},"y":{"datum":7,"type":"quantitative","axis":null},"text":{"field":"t1"}}},
    {"data":{"name":"psi"},"transform":[{"filter":"datum.r=='r1'"}],"mark":{"type":"text","align":"left","dx":4,"font":"DejaVu Sans","fontSize":12.5,"color":"#333"},"encoding":{"x":{"datum":1,"type":"quantitative","axis":null},"y":{"datum":2.8,"type":"quantitative","axis":null},"text":{"field":"t2"}}}
   ]},
  {"width":701,"height":66,
   "resolve":{"axis":{"x":"independent","y":"independent"}},
   "layer":[
    {"data":{"name":"cov"},"transform":[{"filter":"datum.r=='r2'"}],"mark":{"type":"area","color":"#d9261c","clip":false},"encoding":{"x":{"field":"x","type":"quantitative","scale":{"domain":[36837141,36837264,36837497,36837572,36850656,36851128],"range":[0,35,44,65.5,565.5,701],"nice":false,"zero":false},"axis":null},"y":{"field":"y","type":"quantitative","scale":{"domain":[-8.33,46.67],"nice":false,"zero":false},"axis":{"values":[0,10,20,30],"labelExpr":"datum.value==0?'':datum.label","domain":false,"tickSize":-8,"tickColor":"#555","labelPadding":17,"labelFont":"DejaVu Sans","labelFontSize":11,"labelColor":"#444","labelOverlap":false,"labelBound":false,"title":"RPKM","titleFont":"DejaVu Sans","titleFontSize":11,"titleFontWeight":"normal","titleColor":"#444","titleX":-39,"grid":false}},"y2":{"datum":0}}},
    {"data":{"name":"samples"},"transform":[{"filter":"datum.r=='r2'"}],"mark":{"type":"rule","color":"#d9261c","strokeWidth":1,"opacity":0.55},"encoding":{"x":{"datum":36837141,"type":"quantitative","axis":null},"x2":{"datum":36851128},"y":{"datum":0,"type":"quantitative","axis":null}}},
    {"data":{"name":"arcs"},"transform":[{"filter":"datum.r=='r2'"}],"mark":{"type":"line","color":"#d9261c","interpolate":"basis","clip":false},"encoding":{"x":{"field":"x","type":"quantitative","axis":null},"y":{"field":"y","type":"quantitative","axis":null},"detail":{"field":"j"},"order":{"field":"k"},"strokeWidth":{"field":"n","type":"quantitative","scale":{"type":"log","domain":[1,289],"range":[0.8,3.5]},"legend":null}}},
    {"data":{"name":"jl"},"transform":[{"filter":"datum.r=='r2'"}],"mark":{"type":"text","font":"DejaVu Sans","fontSize":12,"color":"#333"},"encoding":{"x":{"field":"x","type":"quantitative","axis":null},"y":{"field":"y","type":"quantitative","axis":null},"text":{"field":"n"}}},
    {"data":{"name":"samples"},"transform":[{"filter":"datum.r=='r2'"}],"mark":{"type":"text","align":"right","font":"DejaVu Sans","fontSize":12,"color":"#d9261c"},"encoding":{"x":{"datum":36851128,"type":"quantitative","axis":null},"y":{"datum":37.5,"type":"quantitative","axis":null},"text":{"field":"name"}}},
    {"data":{"name":"samples"},"transform":[{"filter":"datum.r=='r2'"}],"mark":{"type":"rule","color":"#555","strokeWidth":1},"encoding":{"x":{"datum":36837141,"type":"quantitative","axis":null},"y":{"datum":-1,"type":"quantitative","axis":null},"y2":{"datum":30}}}
   ]},
  {"width":117,"height":66,
   "resolve":{"axis":{"x":"independent","y":"independent"}},
   "layer":[
    {"data":{"name":"psi"},"transform":[{"filter":"datum.r=='r2'"}],"mark":{"type":"rule","color":"#bbb","strokeDash":[1,2],"strokeWidth":1},"encoding":{"x":{"field":"lo","type":"quantitative","scale":{"domain":[0,1],"nice":false,"zero":false},"axis":null},"y":{"datum":0,"type":"quantitative","scale":{"domain":[-3.75,21],"nice":false,"zero":false},"axis":null},"y2":{"datum":12}}},
    {"data":{"name":"psi"},"transform":[{"filter":"datum.r=='r2'"}],"mark":{"type":"rule","color":"#bbb","strokeDash":[1,2],"strokeWidth":1},"encoding":{"x":{"field":"hi","type":"quantitative","axis":null},"y":{"datum":0,"type":"quantitative","axis":null},"y2":{"datum":12}}},
    {"data":{"name":"hist"},"transform":[{"filter":"datum.r=='r2'"}],"mark":{"type":"bar","fill":"#111","stroke":"#777","strokeWidth":0.3,"width":2.2},"encoding":{"x":{"field":"b","type":"quantitative","axis":{"values":[0,0.2,0.4,0.6,0.8,1],"labels":false,"title":null,"offset":-10,"tickSize":-2,"tickColor":"#666","domainColor":"#aaa","grid":false}},"y":{"field":"c","type":"quantitative","axis":{"values":[0,4,8,12],"labelExpr":"''+floor(datum.value)","domain":false,"tickSize":-8,"tickColor":"#555","labelPadding":18,"labelFont":"DejaVu Sans","labelFontSize":11,"labelColor":"#444","labelOverlap":false,"labelBound":false,"title":null,"grid":false}},"y2":{"datum":0}}},
    {"data":{"name":"psi"},"transform":[{"filter":"datum.r=='r2'"}],"mark":{"type":"rule","color":"#ff3030","strokeWidth":1.5},"encoding":{"x":{"field":"psi","type":"quantitative","axis":null},"y":{"datum":0,"type":"quantitative","axis":null},"y2":{"datum":12}}},
    {"data":{"name":"psi"},"transform":[{"filter":"datum.r=='r2'"}],"mark":{"type":"rule","color":"#555","strokeWidth":1},"encoding":{"x":{"datum":0,"type":"quantitative","axis":null},"y":{"datum":0,"type":"quantitative","axis":null},"y2":{"datum":12}}},
    {"data":{"name":"psi"},"transform":[{"filter":"datum.r=='r2'"}],"mark":{"type":"text","align":"left","dx":4,"font":"DejaVu Sans","fontSize":12.5,"color":"#333"},"encoding":{"x":{"datum":1,"type":"quantitative","axis":null},"y":{"datum":10.5,"type":"quantitative","axis":null},"text":{"field":"t1"}}},
    {"data":{"name":"psi"},"transform":[{"filter":"datum.r=='r2'"}],"mark":{"type":"text","align":"left","dx":4,"font":"DejaVu Sans","fontSize":12.5,"color":"#333"},"encoding":{"x":{"datum":1,"type":"quantitative","axis":null},"y":{"datum":4.2,"type":"quantitative","axis":null},"text":{"field":"t2"}}}
   ]},
  {"width":701,"height":66,
   "resolve":{"axis":{"x":"independent","y":"independent"}},
   "layer":[
    {"data":{"name":"cov"},"transform":[{"filter":"datum.r=='r3'"}],"mark":{"type":"area","color":"#ff9a00","clip":false},"encoding":{"x":{"field":"x","type":"quantitative","scale":{"domain":[36837141,36837264,36837497,36837572,36850656,36851128],"range":[0,35,44,65.5,565.5,701],"nice":false,"zero":false},"axis":null},"y":{"field":"y","type":"quantitative","scale":{"domain":[-9.43,47.14],"nice":false,"zero":false},"axis":{"values":[0,10,20,30],"labelExpr":"datum.value==0?'':datum.label","domain":false,"tickSize":-8,"tickColor":"#555","labelPadding":17,"labelFont":"DejaVu Sans","labelFontSize":11,"labelColor":"#444","labelOverlap":false,"labelBound":false,"title":"RPKM","titleFont":"DejaVu Sans","titleFontSize":11,"titleFontWeight":"normal","titleColor":"#444","titleX":-39,"grid":false}},"y2":{"datum":0}}},
    {"data":{"name":"samples"},"transform":[{"filter":"datum.r=='r3'"}],"mark":{"type":"rule","color":"#ff9a00","strokeWidth":1,"opacity":0.55},"encoding":{"x":{"datum":36837141,"type":"quantitative","axis":null},"x2":{"datum":36851128},"y":{"datum":0,"type":"quantitative","axis":null}}},
    {"data":{"name":"arcs"},"transform":[{"filter":"datum.r=='r3'"}],"mark":{"type":"line","color":"#ff9a00","interpolate":"basis","clip":false},"encoding":{"x":{"field":"x","type":"quantitative","axis":null},"y":{"field":"y","type":"quantitative","axis":null},"detail":{"field":"j"},"order":{"field":"k"},"strokeWidth":{"field":"n","type":"quantitative","scale":{"type":"log","domain":[1,289],"range":[0.8,3.5]},"legend":null}}},
    {"data":{"name":"jl"},"transform":[{"filter":"datum.r=='r3'"}],"mark":{"type":"text","font":"DejaVu Sans","fontSize":12,"color":"#333"},"encoding":{"x":{"field":"x","type":"quantitative","axis":null},"y":{"field":"y","type":"quantitative","axis":null},"text":{"field":"n"}}},
    {"data":{"name":"samples"},"transform":[{"filter":"datum.r=='r3'"}],"mark":{"type":"text","align":"right","font":"DejaVu Sans","fontSize":12,"color":"#ff9a00"},"encoding":{"x":{"datum":36851128,"type":"quantitative","axis":null},"y":{"datum":35,"type":"quantitative","axis":null},"text":{"field":"name"}}},
    {"data":{"name":"samples"},"transform":[{"filter":"datum.r=='r3'"}],"mark":{"type":"rule","color":"#555","strokeWidth":1},"encoding":{"x":{"datum":36837141,"type":"quantitative","axis":null},"y":{"datum":-1,"type":"quantitative","axis":null},"y2":{"datum":30}}}
   ]},
  {"width":117,"height":66,
   "resolve":{"axis":{"x":"independent","y":"independent"}},
   "layer":[
    {"data":{"name":"psi"},"transform":[{"filter":"datum.r=='r3'"}],"mark":{"type":"rule","color":"#bbb","strokeDash":[1,2],"strokeWidth":1},"encoding":{"x":{"field":"lo","type":"quantitative","scale":{"domain":[0,1],"nice":false,"zero":false},"axis":null},"y":{"datum":0,"type":"quantitative","scale":{"domain":[-3.56,17.79],"nice":false,"zero":false},"axis":null},"y2":{"datum":11}}},
    {"data":{"name":"psi"},"transform":[{"filter":"datum.r=='r3'"}],"mark":{"type":"rule","color":"#bbb","strokeDash":[1,2],"strokeWidth":1},"encoding":{"x":{"field":"hi","type":"quantitative","axis":null},"y":{"datum":0,"type":"quantitative","axis":null},"y2":{"datum":11}}},
    {"data":{"name":"hist"},"transform":[{"filter":"datum.r=='r3'"}],"mark":{"type":"bar","fill":"#111","stroke":"#777","strokeWidth":0.3,"width":2.2},"encoding":{"x":{"field":"b","type":"quantitative","axis":{"values":[0,0.2,0.4,0.6,0.8,1],"labels":false,"title":null,"offset":-11,"tickSize":-2,"tickColor":"#666","domainColor":"#aaa","grid":false}},"y":{"field":"c","type":"quantitative","axis":{"values":[0,3.6667,7.3333,11],"labelExpr":"''+floor(datum.value)","domain":false,"tickSize":-8,"tickColor":"#555","labelPadding":18,"labelFont":"DejaVu Sans","labelFontSize":11,"labelColor":"#444","labelOverlap":false,"labelBound":false,"title":null,"grid":false}},"y2":{"datum":0}}},
    {"data":{"name":"psi"},"transform":[{"filter":"datum.r=='r3'"}],"mark":{"type":"rule","color":"#ff3030","strokeWidth":1.5},"encoding":{"x":{"field":"psi","type":"quantitative","axis":null},"y":{"datum":0,"type":"quantitative","axis":null},"y2":{"datum":11}}},
    {"data":{"name":"psi"},"transform":[{"filter":"datum.r=='r3'"}],"mark":{"type":"rule","color":"#555","strokeWidth":1},"encoding":{"x":{"datum":0,"type":"quantitative","axis":null},"y":{"datum":0,"type":"quantitative","axis":null},"y2":{"datum":11}}},
    {"data":{"name":"psi"},"transform":[{"filter":"datum.r=='r3'"}],"mark":{"type":"text","align":"left","dx":4,"font":"DejaVu Sans","fontSize":12.5,"color":"#333"},"encoding":{"x":{"datum":1,"type":"quantitative","axis":null},"y":{"datum":9.7,"type":"quantitative","axis":null},"text":{"field":"t1"}}},
    {"data":{"name":"psi"},"transform":[{"filter":"datum.r=='r3'"}],"mark":{"type":"text","align":"left","dx":4,"font":"DejaVu Sans","fontSize":12.5,"color":"#333"},"encoding":{"x":{"datum":1,"type":"quantitative","axis":null},"y":{"datum":3.9,"type":"quantitative","axis":null},"text":{"field":"t2"}}}
   ]},
  {"width":701,"height":60,
   "resolve":{"axis":{"x":"independent","y":"independent"}},
   "layer":[
    {"data":{"name":"cov"},"transform":[{"filter":"datum.r=='r4'"}],"mark":{"type":"area","color":"#ff9a00","clip":false},"encoding":{"x":{"field":"x","type":"quantitative","scale":{"domain":[36837141,36837264,36837497,36837572,36850656,36851128],"range":[0,35,44,65.5,565.5,701],"nice":false,"zero":false},"axis":null},"y":{"field":"y","type":"quantitative","scale":{"domain":[-6.36,48.18],"nice":false,"zero":false},"axis":{"values":[0,10,20,30],"labelExpr":"datum.value==0?'':datum.label","domain":false,"tickSize":-8,"tickColor":"#555","labelPadding":17,"labelFont":"DejaVu Sans","labelFontSize":11,"labelColor":"#444","labelOverlap":false,"labelBound":false,"title":"RPKM","titleFont":"DejaVu Sans","titleFontSize":11,"titleFontWeight":"normal","titleColor":"#444","titleX":-39,"grid":false}},"y2":{"datum":0}}},
    {"data":{"name":"samples"},"transform":[{"filter":"datum.r=='r4'"}],"mark":{"type":"rule","color":"#ff9a00","strokeWidth":1,"opacity":0.55},"encoding":{"x":{"datum":36837141,"type":"quantitative","axis":null},"x2":{"datum":36851128},"y":{"datum":0,"type":"quantitative","axis":null}}},
    {"data":{"name":"arcs"},"transform":[{"filter":"datum.r=='r4'"}],"mark":{"type":"line","color":"#ff9a00","interpolate":"basis","clip":false},"encoding":{"x":{"field":"x","type":"quantitative","axis":null},"y":{"field":"y","type":"quantitative","axis":null},"detail":{"field":"j"},"order":{"field":"k"},"strokeWidth":{"field":"n","type":"quantitative","scale":{"type":"log","domain":[1,289],"range":[0.8,3.5]},"legend":null}}},
    {"data":{"name":"jl"},"transform":[{"filter":"datum.r=='r4'"}],"mark":{"type":"text","font":"DejaVu Sans","fontSize":12,"color":"#333"},"encoding":{"x":{"field":"x","type":"quantitative","axis":null},"y":{"field":"y","type":"quantitative","axis":null},"text":{"field":"n"}}},
    {"data":{"name":"samples"},"transform":[{"filter":"datum.r=='r4'"}],"mark":{"type":"text","align":"right","font":"DejaVu Sans","fontSize":12,"color":"#ff9a00"},"encoding":{"x":{"datum":36851128,"type":"quantitative","axis":null},"y":{"datum":38.5,"type":"quantitative","axis":null},"text":{"field":"name"}}},
    {"data":{"name":"samples"},"transform":[{"filter":"datum.r=='r4'"}],"mark":{"type":"rule","color":"#555","strokeWidth":1},"encoding":{"x":{"datum":36837141,"type":"quantitative","axis":null},"y":{"datum":-1,"type":"quantitative","axis":null},"y2":{"datum":30}}}
   ]},
  {"width":117,"height":60,
   "resolve":{"axis":{"x":"independent","y":"independent"}},
   "layer":[
    {"data":{"name":"psi"},"transform":[{"filter":"datum.r=='r4'"}],"mark":{"type":"rule","color":"#bbb","strokeDash":[1,2],"strokeWidth":1},"encoding":{"x":{"field":"lo","type":"quantitative","scale":{"domain":[0,1],"nice":false,"zero":false},"axis":null},"y":{"datum":0,"type":"quantitative","scale":{"domain":[-1.5,13.5],"nice":false,"zero":false},"axis":null},"y2":{"datum":8}}},
    {"data":{"name":"psi"},"transform":[{"filter":"datum.r=='r4'"}],"mark":{"type":"rule","color":"#bbb","strokeDash":[1,2],"strokeWidth":1},"encoding":{"x":{"field":"hi","type":"quantitative","axis":null},"y":{"datum":0,"type":"quantitative","axis":null},"y2":{"datum":8}}},
    {"data":{"name":"hist"},"transform":[{"filter":"datum.r=='r4'"}],"mark":{"type":"bar","fill":"#111","stroke":"#777","strokeWidth":0.3,"width":2.2},"encoding":{"x":{"field":"b","type":"quantitative","axis":{"values":[0,0.2,0.4,0.6,0.8,1],"labels":false,"title":null,"offset":-6,"tickSize":-2,"tickColor":"#666","domainColor":"#aaa","grid":false}},"y":{"field":"c","type":"quantitative","axis":{"values":[0,2.6667,5.3333,8],"labelExpr":"''+floor(datum.value)","domain":false,"tickSize":-8,"tickColor":"#555","labelPadding":18,"labelFont":"DejaVu Sans","labelFontSize":11,"labelColor":"#444","labelOverlap":false,"labelBound":false,"title":null,"grid":false}},"y2":{"datum":0}}},
    {"data":{"name":"psi"},"transform":[{"filter":"datum.r=='r4'"}],"mark":{"type":"rule","color":"#ff3030","strokeWidth":1.5},"encoding":{"x":{"field":"psi","type":"quantitative","axis":null},"y":{"datum":0,"type":"quantitative","axis":null},"y2":{"datum":8}}},
    {"data":{"name":"psi"},"transform":[{"filter":"datum.r=='r4'"}],"mark":{"type":"rule","color":"#555","strokeWidth":1},"encoding":{"x":{"datum":0,"type":"quantitative","axis":null},"y":{"datum":0,"type":"quantitative","axis":null},"y2":{"datum":8}}},
    {"data":{"name":"psi"},"transform":[{"filter":"datum.r=='r4'"}],"mark":{"type":"text","align":"left","dx":4,"font":"DejaVu Sans","fontSize":12.5,"color":"#333"},"encoding":{"x":{"datum":1,"type":"quantitative","axis":null},"y":{"datum":7,"type":"quantitative","axis":null},"text":{"field":"t1"}}},
    {"data":{"name":"psi"},"transform":[{"filter":"datum.r=='r4'"}],"mark":{"type":"text","align":"left","dx":4,"font":"DejaVu Sans","fontSize":12.5,"color":"#333"},"encoding":{"x":{"datum":1,"type":"quantitative","axis":null},"y":{"datum":2.8,"type":"quantitative","axis":null},"text":{"field":"t2"}}}
   ]},
  {"width":701,"height":55,
   "resolve":{"axis":{"x":"independent","y":"independent"}},
   "layer":[
    {"data":{"name":"cov"},"transform":[{"filter":"datum.r=='r5'"}],"mark":{"type":"area","color":"#d9261c","clip":false},"encoding":{"x":{"field":"x","type":"quantitative","scale":{"domain":[36837141,36837264,36837497,36837572,36850656,36851128],"range":[0,35,44,65.5,565.5,701],"nice":false,"zero":false},"axis":null},"y":{"field":"y","type":"quantitative","scale":{"domain":[-3.87,49.35],"nice":false,"zero":false},"axis":{"values":[0,10,20,30],"labelExpr":"datum.value==0?'':datum.label","domain":false,"tickSize":-8,"tickColor":"#555","labelPadding":17,"labelFont":"DejaVu Sans","labelFontSize":11,"labelColor":"#444","labelOverlap":false,"labelBound":false,"title":"RPKM","titleFont":"DejaVu Sans","titleFontSize":11,"titleFontWeight":"normal","titleColor":"#444","titleX":-39,"grid":false}},"y2":{"datum":0}}},
    {"data":{"name":"samples"},"transform":[{"filter":"datum.r=='r5'"}],"mark":{"type":"rule","color":"#d9261c","strokeWidth":1,"opacity":0.55},"encoding":{"x":{"datum":36837141,"type":"quantitative","axis":null},"x2":{"datum":36851128},"y":{"datum":0,"type":"quantitative","axis":null}}},
    {"data":{"name":"samples"},"transform":[{"filter":"datum.r=='r5'"}],"mark":{"type":"rule","color":"#d9261c","strokeWidth":2,"strokeDash":[3,5]},"encoding":{"x":{"datum":36837600,"type":"quantitative","axis":null},"x2":{"datum":36850640},"y":{"datum":0.8,"type":"quantitative","axis":null}}},
    {"data":{"name":"arcs"},"transform":[{"filter":"datum.r=='r5'"}],"mark":{"type":"line","color":"#d9261c","interpolate":"basis","clip":false},"encoding":{"x":{"field":"x","type":"quantitative","axis":null},"y":{"field":"y","type":"quantitative","axis":null},"detail":{"field":"j"},"order":{"field":"k"},"strokeWidth":{"field":"n","type":"quantitative","scale":{"type":"log","domain":[1,289],"range":[0.8,3.5]},"legend":null}}},
    {"data":{"name":"jl"},"transform":[{"filter":"datum.r=='r5'"}],"mark":{"type":"text","font":"DejaVu Sans","fontSize":12,"fill":"white","stroke":"white","strokeWidth":6},"encoding":{"x":{"field":"x","type":"quantitative","axis":null},"y":{"field":"y","type":"quantitative","axis":null},"text":{"field":"n"}}},
    {"data":{"name":"jl"},"transform":[{"filter":"datum.r=='r5'"}],"mark":{"type":"text","font":"DejaVu Sans","fontSize":12,"color":"#333"},"encoding":{"x":{"field":"x","type":"quantitative","axis":null},"y":{"field":"y","type":"quantitative","axis":null},"text":{"field":"n"}}},
    {"data":{"name":"samples"},"transform":[{"filter":"datum.r=='r5'"}],"mark":{"type":"text","align":"right","font":"DejaVu Sans","fontSize":12,"color":"#d9261c"},"encoding":{"x":{"datum":36851128,"type":"quantitative","axis":null},"y":{"datum":33,"type":"quantitative","axis":null},"text":{"field":"name"}}},
    {"data":{"name":"samples"},"transform":[{"filter":"datum.r=='r5'"}],"mark":{"type":"rule","color":"#555","strokeWidth":1},"encoding":{"x":{"datum":36837141,"type":"quantitative","axis":null},"y":{"datum":-1,"type":"quantitative","axis":null},"y2":{"datum":30}}}
   ]},
  {"width":117,"height":55,
   "resolve":{"axis":{"x":"independent","y":"independent"}},
   "layer":[
    {"data":{"name":"psi"},"transform":[{"filter":"datum.r=='r5'"}],"mark":{"type":"rule","color":"#bbb","strokeDash":[1,2],"strokeWidth":1},"encoding":{"x":{"field":"lo","type":"quantitative","scale":{"domain":[0,1],"nice":false,"zero":false},"axis":null},"y":{"datum":0,"type":"quantitative","scale":{"domain":[-1,17.33],"nice":false,"zero":false},"axis":null},"y2":{"datum":11}}},
    {"data":{"name":"psi"},"transform":[{"filter":"datum.r=='r5'"}],"mark":{"type":"rule","color":"#bbb","strokeDash":[1,2],"strokeWidth":1},"encoding":{"x":{"field":"hi","type":"quantitative","axis":null},"y":{"datum":0,"type":"quantitative","axis":null},"y2":{"datum":11}}},
    {"data":{"name":"hist"},"transform":[{"filter":"datum.r=='r5'"}],"mark":{"type":"bar","fill":"#111","stroke":"#777","strokeWidth":0.3,"width":2.2},"encoding":{"x":{"field":"b","type":"quantitative","axis":{"values":[0,0.2,0.4,0.6,0.8,1],"labels":false,"title":null,"offset":-3,"tickSize":-2,"tickColor":"#666","domainColor":"#aaa","grid":false}},"y":{"field":"c","type":"quantitative","axis":{"values":[0,3.6667,7.3333,11],"labelExpr":"''+floor(datum.value)","domain":false,"tickSize":-8,"tickColor":"#555","labelPadding":18,"labelFont":"DejaVu Sans","labelFontSize":11,"labelColor":"#444","labelOverlap":false,"labelBound":false,"title":null,"grid":false}},"y2":{"datum":0}}},
    {"data":{"name":"psi"},"transform":[{"filter":"datum.r=='r5'"}],"mark":{"type":"rule","color":"#ff3030","strokeWidth":1.5},"encoding":{"x":{"field":"psi","type":"quantitative","axis":null},"y":{"datum":0,"type":"quantitative","axis":null},"y2":{"datum":11}}},
    {"data":{"name":"psi"},"transform":[{"filter":"datum.r=='r5'"}],"mark":{"type":"rule","color":"#555","strokeWidth":1},"encoding":{"x":{"datum":0,"type":"quantitative","axis":null},"y":{"datum":0,"type":"quantitative","axis":null},"y2":{"datum":11}}},
    {"data":{"name":"psi"},"transform":[{"filter":"datum.r=='r5'"}],"mark":{"type":"text","align":"left","dx":4,"font":"DejaVu Sans","fontSize":12.5,"color":"#333"},"encoding":{"x":{"datum":1,"type":"quantitative","axis":null},"y":{"datum":9.7,"type":"quantitative","axis":null},"text":{"field":"t1"}}},
    {"data":{"name":"psi"},"transform":[{"filter":"datum.r=='r5'"}],"mark":{"type":"text","align":"left","dx":4,"font":"DejaVu Sans","fontSize":12.5,"color":"#333"},"encoding":{"x":{"datum":1,"type":"quantitative","axis":null},"y":{"datum":3.9,"type":"quantitative","axis":null},"text":{"field":"t2"}}}
   ]},
  {"width":701,"height":54,
   "resolve":{"axis":{"x":"independent","y":"independent"}},
   "layer":[
    {"data":{"name":"cov"},"transform":[{"filter":"datum.r=='r6'"}],"mark":{"type":"area","color":"#ff9a00","clip":false},"encoding":{"x":{"field":"x","type":"quantitative","scale":{"domain":[36837141,36837264,36837497,36837572,36850656,36851128],"range":[0,35,44,65.5,565.5,701],"nice":false,"zero":false},"axis":null},"y":{"field":"y","type":"quantitative","scale":{"domain":[-2.9,49.35],"nice":false,"zero":false},"axis":{"values":[0,10,20,30],"labelExpr":"datum.value==0?'':datum.label","domain":false,"tickSize":-8,"tickColor":"#555","labelPadding":17,"labelFont":"DejaVu Sans","labelFontSize":11,"labelColor":"#444","labelOverlap":false,"labelBound":false,"title":"RPKM","titleFont":"DejaVu Sans","titleFontSize":11,"titleFontWeight":"normal","titleColor":"#444","titleX":-39,"grid":false}},"y2":{"datum":0}}},
    {"data":{"name":"samples"},"transform":[{"filter":"datum.r=='r6'"}],"mark":{"type":"rule","color":"#ff9a00","strokeWidth":1,"opacity":0.55},"encoding":{"x":{"datum":36837141,"type":"quantitative","axis":null},"x2":{"datum":36851128},"y":{"datum":0,"type":"quantitative","axis":null}}},
    {"data":{"name":"samples"},"transform":[{"filter":"datum.r=='r6'"}],"mark":{"type":"rule","color":"#ff9a00","strokeWidth":2,"strokeDash":[3,5]},"encoding":{"x":{"datum":36837600,"type":"quantitative","axis":null},"x2":{"datum":36850640},"y":{"datum":0.8,"type":"quantitative","axis":null}}},
    {"data":{"name":"arcs"},"transform":[{"filter":"datum.r=='r6'"}],"mark":{"type":"line","color":"#ff9a00","interpolate":"basis","clip":false},"encoding":{"x":{"field":"x","type":"quantitative","axis":null},"y":{"field":"y","type":"quantitative","axis":null},"detail":{"field":"j"},"order":{"field":"k"},"strokeWidth":{"field":"n","type":"quantitative","scale":{"type":"log","domain":[1,289],"range":[0.8,3.5]},"legend":null}}},
    {"data":{"name":"jl"},"transform":[{"filter":"datum.r=='r6'"}],"mark":{"type":"text","font":"DejaVu Sans","fontSize":12,"fill":"white","stroke":"white","strokeWidth":6},"encoding":{"x":{"field":"x","type":"quantitative","axis":null},"y":{"field":"y","type":"quantitative","axis":null},"text":{"field":"n"}}},
    {"data":{"name":"jl"},"transform":[{"filter":"datum.r=='r6'"}],"mark":{"type":"text","font":"DejaVu Sans","fontSize":12,"color":"#333"},"encoding":{"x":{"field":"x","type":"quantitative","axis":null},"y":{"field":"y","type":"quantitative","axis":null},"text":{"field":"n"}}},
    {"data":{"name":"samples"},"transform":[{"filter":"datum.r=='r6'"}],"mark":{"type":"text","align":"right","font":"DejaVu Sans","fontSize":12,"color":"#ff9a00"},"encoding":{"x":{"datum":36851128,"type":"quantitative","axis":null},"y":{"datum":26,"type":"quantitative","axis":null},"text":{"field":"name"}}},
    {"data":{"name":"samples"},"transform":[{"filter":"datum.r=='r6'"}],"mark":{"type":"rule","color":"#555","strokeWidth":1},"encoding":{"x":{"datum":36837141,"type":"quantitative","axis":null},"y":{"datum":-1,"type":"quantitative","axis":null},"y2":{"datum":30}}}
   ]},
  {"width":117,"height":54,
   "resolve":{"axis":{"x":"independent","y":"independent"}},
   "layer":[
    {"data":{"name":"psi"},"transform":[{"filter":"datum.r=='r6'"}],"mark":{"type":"rule","color":"#bbb","strokeDash":[1,2],"strokeWidth":1},"encoding":{"x":{"field":"lo","type":"quantitative","scale":{"domain":[0,1],"nice":false,"zero":false},"axis":null},"y":{"datum":0,"type":"quantitative","scale":{"domain":[-0.441,7.5],"nice":false,"zero":false},"axis":null},"y2":{"datum":5}}},
    {"data":{"name":"psi"},"transform":[{"filter":"datum.r=='r6'"}],"mark":{"type":"rule","color":"#bbb","strokeDash":[1,2],"strokeWidth":1},"encoding":{"x":{"field":"hi","type":"quantitative","axis":null},"y":{"datum":0,"type":"quantitative","axis":null},"y2":{"datum":5}}},
    {"data":{"name":"hist"},"transform":[{"filter":"datum.r=='r6'"}],"mark":{"type":"bar","fill":"#111","stroke":"#777","strokeWidth":0.3,"width":2.2},"encoding":{"x":{"field":"b","type":"quantitative","axis":{"values":[0,0.2,0.4,0.6,0.8,1],"labels":false,"title":null,"offset":-3,"tickSize":-2,"tickColor":"#666","domainColor":"#aaa","grid":false}},"y":{"field":"c","type":"quantitative","axis":{"values":[0,1.6667,3.3333,5],"labelExpr":"''+floor(datum.value)","domain":false,"tickSize":-8,"tickColor":"#555","labelPadding":18,"labelFont":"DejaVu Sans","labelFontSize":11,"labelColor":"#444","labelOverlap":false,"labelBound":false,"title":null,"grid":false}},"y2":{"datum":0}}},
    {"data":{"name":"psi"},"transform":[{"filter":"datum.r=='r6'"}],"mark":{"type":"rule","color":"#ff3030","strokeWidth":1.5},"encoding":{"x":{"field":"psi","type":"quantitative","axis":null},"y":{"datum":0,"type":"quantitative","axis":null},"y2":{"datum":5}}},
    {"data":{"name":"psi"},"transform":[{"filter":"datum.r=='r6'"}],"mark":{"type":"rule","color":"#555","strokeWidth":1},"encoding":{"x":{"datum":0,"type":"quantitative","axis":null},"y":{"datum":0,"type":"quantitative","axis":null},"y2":{"datum":5}}},
    {"data":{"name":"psi"},"transform":[{"filter":"datum.r=='r6'"}],"mark":{"type":"text","align":"left","dx":4,"font":"DejaVu Sans","fontSize":12.5,"color":"#333"},"encoding":{"x":{"datum":1,"type":"quantitative","axis":null},"y":{"datum":4.4,"type":"quantitative","axis":null},"text":{"field":"t1"}}},
    {"data":{"name":"psi"},"transform":[{"filter":"datum.r=='r6'"}],"mark":{"type":"text","align":"left","dx":4,"font":"DejaVu Sans","fontSize":12.5,"color":"#333"},"encoding":{"x":{"datum":1,"type":"quantitative","axis":null},"y":{"datum":1.75,"type":"quantitative","axis":null},"text":{"field":"t2"}}}
   ]},
  {"width":701,"height":54,
   "resolve":{"axis":{"x":"independent","y":"independent"}},
   "layer":[
    {"data":{"name":"cov"},"transform":[{"filter":"datum.r=='r7'"}],"mark":{"type":"area","color":"#0b7a0b","clip":false},"encoding":{"x":{"field":"x","type":"quantitative","scale":{"domain":[36837141,36837264,36837497,36837572,36850656,36851128],"range":[0,35,44,65.5,565.5,701],"nice":false,"zero":false},"axis":null},"y":{"field":"y","type":"quantitative","scale":{"domain":[-2.9,49.35],"nice":false,"zero":false},"axis":{"values":[0,10,20,30],"labelExpr":"datum.value==0?'':datum.label","domain":false,"tickSize":-8,"tickColor":"#555","labelPadding":17,"labelFont":"DejaVu Sans","labelFontSize":11,"labelColor":"#444","labelOverlap":false,"labelBound":false,"title":"RPKM","titleFont":"DejaVu Sans","titleFontSize":11,"titleFontWeight":"normal","titleColor":"#444","titleX":-39,"grid":false}},"y2":{"datum":0}}},
    {"data":{"name":"samples"},"transform":[{"filter":"datum.r=='r7'"}],"mark":{"type":"rule","color":"#0b7a0b","strokeWidth":1,"opacity":0.55},"encoding":{"x":{"datum":36837141,"type":"quantitative","axis":null},"x2":{"datum":36851128},"y":{"datum":0,"type":"quantitative","axis":null}}},
    {"data":{"name":"samples"},"transform":[{"filter":"datum.r=='r7'"}],"mark":{"type":"rule","color":"#0b7a0b","strokeWidth":2,"strokeDash":[3,5]},"encoding":{"x":{"datum":36837600,"type":"quantitative","axis":null},"x2":{"datum":36850640},"y":{"datum":0.8,"type":"quantitative","axis":null}}},
    {"data":{"name":"arcs"},"transform":[{"filter":"datum.r=='r7'"}],"mark":{"type":"line","color":"#0b7a0b","interpolate":"basis","clip":false},"encoding":{"x":{"field":"x","type":"quantitative","axis":null},"y":{"field":"y","type":"quantitative","axis":null},"detail":{"field":"j"},"order":{"field":"k"},"strokeWidth":{"field":"n","type":"quantitative","scale":{"type":"log","domain":[1,289],"range":[0.8,3.5]},"legend":null}}},
    {"data":{"name":"jl"},"transform":[{"filter":"datum.r=='r7'"}],"mark":{"type":"text","font":"DejaVu Sans","fontSize":12,"fill":"white","stroke":"white","strokeWidth":6},"encoding":{"x":{"field":"x","type":"quantitative","axis":null},"y":{"field":"y","type":"quantitative","axis":null},"text":{"field":"n"}}},
    {"data":{"name":"jl"},"transform":[{"filter":"datum.r=='r7'"}],"mark":{"type":"text","font":"DejaVu Sans","fontSize":12,"color":"#333"},"encoding":{"x":{"field":"x","type":"quantitative","axis":null},"y":{"field":"y","type":"quantitative","axis":null},"text":{"field":"n"}}},
    {"data":{"name":"samples"},"transform":[{"filter":"datum.r=='r7'"}],"mark":{"type":"text","align":"right","font":"DejaVu Sans","fontSize":12,"color":"#0b7a0b"},"encoding":{"x":{"datum":36851128,"type":"quantitative","axis":null},"y":{"datum":33,"type":"quantitative","axis":null},"text":{"field":"name"}}},
    {"data":{"name":"samples"},"transform":[{"filter":"datum.r=='r7'"}],"mark":{"type":"rule","color":"#555","strokeWidth":1},"encoding":{"x":{"datum":36837141,"type":"quantitative","axis":null},"y":{"datum":-1,"type":"quantitative","axis":null},"y2":{"datum":30}}}
   ]},
  {"width":117,"height":54,
   "resolve":{"axis":{"x":"independent","y":"independent"}},
   "layer":[
    {"data":{"name":"psi"},"transform":[{"filter":"datum.r=='r7'"}],"mark":{"type":"rule","color":"#bbb","strokeDash":[1,2],"strokeWidth":1},"encoding":{"x":{"field":"lo","type":"quantitative","scale":{"domain":[0,1],"nice":false,"zero":false},"axis":null},"y":{"datum":0,"type":"quantitative","scale":{"domain":[-0.485,12.61],"nice":false,"zero":false},"axis":null},"y2":{"datum":8}}},
    {"data":{"name":"psi"},"transform":[{"filter":"datum.r=='r7'"}],"mark":{"type":"rule","color":"#bbb","strokeDash":[1,2],"strokeWidth":1},"encoding":{"x":{"field":"hi","type":"quantitative","axis":null},"y":{"datum":0,"type":"quantitative","axis":null},"y2":{"datum":8}}},
    {"data":{"name":"hist"},"transform":[{"filter":"datum.r=='r7'"}],"mark":{"type":"bar","fill":"#111","stroke":"#777","strokeWidth":0.3,"width":2.2},"encoding":{"x":{"field":"b","type":"quantitative","axis":{"values":[0,0.2,0.4,0.6,0.8,1],"labels":false,"title":null,"offset":-2,"tickSize":-2,"tickColor":"#666","domainColor":"#aaa","grid":false}},"y":{"field":"c","type":"quantitative","axis":{"values":[0,2.6667,5.3333,8],"labelExpr":"''+floor(datum.value)","domain":false,"tickSize":-8,"tickColor":"#555","labelPadding":18,"labelFont":"DejaVu Sans","labelFontSize":11,"labelColor":"#444","labelOverlap":false,"labelBound":false,"title":null,"grid":false}},"y2":{"datum":0}}},
    {"data":{"name":"psi"},"transform":[{"filter":"datum.r=='r7'"}],"mark":{"type":"rule","color":"#ff3030","strokeWidth":1.5},"encoding":{"x":{"field":"psi","type":"quantitative","axis":null},"y":{"datum":0,"type":"quantitative","axis":null},"y2":{"datum":8}}},
    {"data":{"name":"psi"},"transform":[{"filter":"datum.r=='r7'"}],"mark":{"type":"rule","color":"#555","strokeWidth":1},"encoding":{"x":{"datum":0,"type":"quantitative","axis":null},"y":{"datum":0,"type":"quantitative","axis":null},"y2":{"datum":8}}},
    {"data":{"name":"psi"},"transform":[{"filter":"datum.r=='r7'"}],"mark":{"type":"text","align":"left","dx":4,"font":"DejaVu Sans","fontSize":12.5,"color":"#333"},"encoding":{"x":{"datum":1,"type":"quantitative","axis":null},"y":{"datum":7,"type":"quantitative","axis":null},"text":{"field":"t1"}}},
    {"data":{"name":"psi"},"transform":[{"filter":"datum.r=='r7'"}],"mark":{"type":"text","align":"left","dx":4,"font":"DejaVu Sans","fontSize":12.5,"color":"#333"},"encoding":{"x":{"datum":1,"type":"quantitative","axis":null},"y":{"datum":2.8,"type":"quantitative","axis":null},"text":{"field":"t2"}}}
   ]},
  {"width":701,"height":55,
   "resolve":{"axis":{"x":"independent","y":"independent"}},
   "layer":[
    {"data":{"name":"cov"},"transform":[{"filter":"datum.r=='r8'"}],"mark":{"type":"area","color":"#22e07a","clip":false},"encoding":{"x":{"field":"x","type":"quantitative","scale":{"domain":[36837141,36837264,36837497,36837572,36850656,36851128],"range":[0,35,44,65.5,565.5,701],"nice":false,"zero":false},"axis":null},"y":{"field":"y","type":"quantitative","scale":{"domain":[-3.87,49.35],"nice":false,"zero":false},"axis":{"values":[0,10,20,30],"labelExpr":"datum.value==0?'':datum.label","domain":false,"tickSize":-8,"tickColor":"#555","labelPadding":17,"labelFont":"DejaVu Sans","labelFontSize":11,"labelColor":"#444","labelOverlap":false,"labelBound":false,"title":"RPKM","titleFont":"DejaVu Sans","titleFontSize":11,"titleFontWeight":"normal","titleColor":"#444","titleX":-39,"grid":false}},"y2":{"datum":0}}},
    {"data":{"name":"samples"},"transform":[{"filter":"datum.r=='r8'"}],"mark":{"type":"rule","color":"#22e07a","strokeWidth":1,"opacity":0.55},"encoding":{"x":{"datum":36837141,"type":"quantitative","axis":null},"x2":{"datum":36851128},"y":{"datum":0,"type":"quantitative","axis":null}}},
    {"data":{"name":"samples"},"transform":[{"filter":"datum.r=='r8'"}],"mark":{"type":"rule","color":"#22e07a","strokeWidth":2,"strokeDash":[3,5]},"encoding":{"x":{"datum":36837600,"type":"quantitative","axis":null},"x2":{"datum":36850640},"y":{"datum":0.8,"type":"quantitative","axis":null}}},
    {"data":{"name":"arcs"},"transform":[{"filter":"datum.r=='r8'"}],"mark":{"type":"line","color":"#22e07a","interpolate":"basis","clip":false},"encoding":{"x":{"field":"x","type":"quantitative","axis":null},"y":{"field":"y","type":"quantitative","axis":null},"detail":{"field":"j"},"order":{"field":"k"},"strokeWidth":{"field":"n","type":"quantitative","scale":{"type":"log","domain":[1,289],"range":[0.8,3.5]},"legend":null}}},
    {"data":{"name":"jl"},"transform":[{"filter":"datum.r=='r8'"}],"mark":{"type":"text","font":"DejaVu Sans","fontSize":12,"fill":"white","stroke":"white","strokeWidth":6},"encoding":{"x":{"field":"x","type":"quantitative","axis":null},"y":{"field":"y","type":"quantitative","axis":null},"text":{"field":"n"}}},
    {"data":{"name":"jl"},"transform":[{"filter":"datum.r=='r8'"}],"mark":{"type":"text","font":"DejaVu Sans","fontSize":12,"color":"#333"},"encoding":{"x":{"field":"x","type":"quantitative","axis":null},"y":{"field":"y","type":"quantitative","axis":null},"text":{"field":"n"}}},
    {"data":{"name":"samples"},"transform":[{"filter":"datum.r=='r8'"}],"mark":{"type":"text","align":"right","font":"DejaVu Sans","fontSize":12,"color":"#22e07a"},"encoding":{"x":{"datum":36851128,"type":"quantitative","axis":null},"y":{"datum":32,"type":"quantitative","axis":null},"text":{"field":"name"}}},
    {"data":{"name":"samples"},"transform":[{"filter":"datum.r=='r8'"}],"mark":{"type":"rule","color":"#555","strokeWidth":1},"encoding":{"x":{"datum":36837141,"type":"quantitative","axis":null},"y":{"datum":-1,"type":"quantitative","axis":null},"y2":{"datum":30}}}
   ]},
  {"width":117,"height":55,
   "resolve":{"axis":{"x":"independent","y":"independent"}},
   "layer":[
    {"data":{"name":"psi"},"transform":[{"filter":"datum.r=='r8'"}],"mark":{"type":"rule","color":"#bbb","strokeDash":[1,2],"strokeWidth":1},"encoding":{"x":{"field":"lo","type":"quantitative","scale":{"domain":[0,1],"nice":false,"zero":false},"axis":null},"y":{"datum":0,"type":"quantitative","scale":{"domain":[-0.774,9.87],"nice":false,"zero":false},"axis":null},"y2":{"datum":6}}},
    {"data":{"name":"psi"},"transform":[{"filter":"datum.r=='r8'"}],"mark":{"type":"rule","color":"#bbb","strokeDash":[1,2],"strokeWidth":1},"encoding":{"x":{"field":"hi","type":"quantitative","axis":null},"y":{"datum":0,"type":"quantitative","axis":null},"y2":{"datum":6}}},
    {"data":{"name":"hist"},"transform":[{"filter":"datum.r=='r8'"}],"mark":{"type":"bar","fill":"#111","stroke":"#777","strokeWidth":0.3,"width":2.2},"encoding":{"x":{"field":"b","type":"quantitative","axis":{"values":[0,0.2,0.4,0.6,0.8,1],"labels":false,"title":null,"offset":-4,"tickSize":-2,"tickColor":"#666","domainColor":"#aaa","grid":false}},"y":{"field":"c","type":"quantitative","axis":{"values":[0,2,4,6],"labelExpr":"''+floor(datum.value)","domain":false,"tickSize":-8,"tickColor":"#555","labelPadding":18,"labelFont":"DejaVu Sans","labelFontSize":11,"labelColor":"#444","labelOverlap":false,"labelBound":false,"title":null,"grid":false}},"y2":{"datum":0}}},
    {"data":{"name":"psi"},"transform":[{"filter":"datum.r=='r8'"}],"mark":{"type":"rule","color":"#ff3030","strokeWidth":1.5},"encoding":{"x":{"field":"psi","type":"quantitative","axis":null},"y":{"datum":0,"type":"quantitative","axis":null},"y2":{"datum":6}}},
    {"data":{"name":"psi"},"transform":[{"filter":"datum.r=='r8'"}],"mark":{"type":"rule","color":"#555","strokeWidth":1},"encoding":{"x":{"datum":0,"type":"quantitative","axis":null},"y":{"datum":0,"type":"quantitative","axis":null},"y2":{"datum":6}}},
    {"data":{"name":"psi"},"transform":[{"filter":"datum.r=='r8'"}],"mark":{"type":"text","align":"left","dx":4,"font":"DejaVu Sans","fontSize":12.5,"color":"#333"},"encoding":{"x":{"datum":1,"type":"quantitative","axis":null},"y":{"datum":5.3,"type":"quantitative","axis":null},"text":{"field":"t1"}}},
    {"data":{"name":"psi"},"transform":[{"filter":"datum.r=='r8'"}],"mark":{"type":"text","align":"left","dx":4,"font":"DejaVu Sans","fontSize":12.5,"color":"#333"},"encoding":{"x":{"datum":1,"type":"quantitative","axis":null},"y":{"datum":2.1,"type":"quantitative","axis":null},"text":{"field":"t2"}}}
   ]},
  {"width":701,"height":62,
   "resolve":{"axis":{"x":"independent","y":"independent"}},
   "layer":[
    {"data":{"name":"cov"},"transform":[{"filter":"datum.r=='r9'"}],"mark":{"type":"area","color":"#00bff5","clip":false},"encoding":{"x":{"field":"x","type":"quantitative","scale":{"domain":[36837141,36837264,36837497,36837572,36850656,36851128],"range":[0,35,44,65.5,565.5,701],"nice":false,"zero":false},"axis":{"values":[36837144,36841974,36848063,36851126],"format":"d","tickSize":-5,"tickColor":"#555","domainColor":"#555","labelFont":"DejaVu Sans","labelFontSize":14,"labelColor":"#333","labelPadding":19,"labelOverlap":false,"labelFlush":false,"title":"Genomic coordinate (chr17), \"+\" strand","titleFont":"DejaVu Sans","titleFontSize":12,"titleFontWeight":"normal","titleColor":"#444","titlePadding":9,"grid":false}},"y":{"field":"y","type":"quantitative","scale":{"domain":[-10.65,49.35],"nice":false,"zero":false},"axis":{"values":[0,10,20,30],"labelExpr":"datum.value==0?'':datum.label","domain":false,"tickSize":-8,"tickColor":"#555","labelPadding":17,"labelFont":"DejaVu Sans","labelFontSize":11,"labelColor":"#444","labelOverlap":false,"labelBound":false,"title":"RPKM","titleFont":"DejaVu Sans","titleFontSize":11,"titleFontWeight":"normal","titleColor":"#444","titleX":-39,"grid":false}},"y2":{"datum":0}}},
    {"data":{"name":"samples"},"transform":[{"filter":"datum.r=='r9'"}],"mark":{"type":"rule","color":"#00bff5","strokeWidth":1,"opacity":0.55},"encoding":{"x":{"datum":36837141,"type":"quantitative","axis":null},"x2":{"datum":36851128},"y":{"datum":0,"type":"quantitative","axis":null}}},
    {"data":{"name":"samples"},"transform":[{"filter":"datum.r=='r9'"}],"mark":{"type":"rule","color":"#00bff5","strokeWidth":2,"strokeDash":[3,5]},"encoding":{"x":{"datum":36837600,"type":"quantitative","axis":null},"x2":{"datum":36850640},"y":{"datum":0.8,"type":"quantitative","axis":null}}},
    {"data":{"name":"arcs"},"transform":[{"filter":"datum.r=='r9'"}],"mark":{"type":"line","color":"#00bff5","interpolate":"basis","clip":false},"encoding":{"x":{"field":"x","type":"quantitative","axis":null},"y":{"field":"y","type":"quantitative","axis":null},"detail":{"field":"j"},"order":{"field":"k"},"strokeWidth":{"field":"n","type":"quantitative","scale":{"type":"log","domain":[1,289],"range":[0.8,3.5]},"legend":null}}},
    {"data":{"name":"jl"},"transform":[{"filter":"datum.r=='r9'"}],"mark":{"type":"text","font":"DejaVu Sans","fontSize":12,"fill":"white","stroke":"white","strokeWidth":6},"encoding":{"x":{"field":"x","type":"quantitative","axis":null},"y":{"field":"y","type":"quantitative","axis":null},"text":{"field":"n"}}},
    {"data":{"name":"jl"},"transform":[{"filter":"datum.r=='r9'"}],"mark":{"type":"text","font":"DejaVu Sans","fontSize":12,"color":"#333"},"encoding":{"x":{"field":"x","type":"quantitative","axis":null},"y":{"field":"y","type":"quantitative","axis":null},"text":{"field":"n"}}},
    {"data":{"name":"samples"},"transform":[{"filter":"datum.r=='r9'"}],"mark":{"type":"text","align":"right","font":"DejaVu Sans","fontSize":12,"color":"#00bff5"},"encoding":{"x":{"datum":36851128,"type":"quantitative","axis":null},"y":{"datum":32,"type":"quantitative","axis":null},"text":{"field":"name"}}},
    {"data":{"name":"samples"},"transform":[{"filter":"datum.r=='r9'"}],"mark":{"type":"rule","color":"#555","strokeWidth":1},"encoding":{"x":{"datum":36837141,"type":"quantitative","axis":null},"y":{"datum":-1,"type":"quantitative","axis":null},"y2":{"datum":30}}}
   ]},
  {"width":117,"height":62,
   "resolve":{"axis":{"x":"independent","y":"independent"}},
   "layer":[
    {"data":{"name":"psi"},"transform":[{"filter":"datum.r=='r9'"}],"mark":{"type":"rule","color":"#bbb","strokeDash":[1,2],"strokeWidth":1},"encoding":{"x":{"field":"lo","type":"quantitative","scale":{"domain":[0,1],"nice":false,"zero":false},"axis":null},"y":{"datum":0,"type":"quantitative","scale":{"domain":[-2.129,9.87],"nice":false,"zero":false},"axis":null},"y2":{"datum":6}}},
    {"data":{"name":"psi"},"transform":[{"filter":"datum.r=='r9'"}],"mark":{"type":"rule","color":"#bbb","strokeDash":[1,2],"strokeWidth":1},"encoding":{"x":{"field":"hi","type":"quantitative","axis":null},"y":{"datum":0,"type":"quantitative","axis":null},"y2":{"datum":6}}},
    {"data":{"name":"hist"},"transform":[{"filter":"datum.r=='r9'"}],"mark":{"type":"bar","fill":"#111","stroke":"#777","strokeWidth":0.3,"width":2.2},"encoding":{"x":{"field":"b","type":"quantitative","axis":{"values":[0,0.2,0.4,0.6,0.8,1],"format":"~g","offset":-11,"tickSize":-2,"tickColor":"#666","domainColor":"#aaa","grid":false,"labelFont":"DejaVu Sans","labelFontSize":12,"labelColor":"#333","labelPadding":13,"labelFlush":false,"labelOverlap":false,"title":"MISO Ψ","titleFont":"DejaVu Sans","titleFontSize":12,"titleFontWeight":"normal","titleColor":"#333","titlePadding":9}},"y":{"field":"c","type":"quantitative","axis":{"values":[0,2,4,6],"labelExpr":"''+floor(datum.value)","domain":false,"tickSize":-8,"tickColor":"#555","labelPadding":18,"labelFont":"DejaVu Sans","labelFontSize":11,"labelColor":"#444","labelOverlap":false,"labelBound":false,"title":null,"grid":false}},"y2":{"datum":0}}},
    {"data":{"name":"psi"},"transform":[{"filter":"datum.r=='r9'"}],"mark":{"type":"rule","color":"#ff3030","strokeWidth":1.5},"encoding":{"x":{"field":"psi","type":"quantitative","axis":null},"y":{"datum":0,"type":"quantitative","axis":null},"y2":{"datum":6}}},
    {"data":{"name":"psi"},"transform":[{"filter":"datum.r=='r9'"}],"mark":{"type":"rule","color":"#555","strokeWidth":1},"encoding":{"x":{"datum":0,"type":"quantitative","axis":null},"y":{"datum":0,"type":"quantitative","axis":null},"y2":{"datum":6}}},
    {"data":{"name":"psi"},"transform":[{"filter":"datum.r=='r9'"}],"mark":{"type":"text","align":"left","dx":4,"font":"DejaVu Sans","fontSize":12.5,"color":"#333"},"encoding":{"x":{"datum":1,"type":"quantitative","axis":null},"y":{"datum":5.3,"type":"quantitative","axis":null},"text":{"field":"t1"}}},
    {"data":{"name":"psi"},"transform":[{"filter":"datum.r=='r9'"}],"mark":{"type":"text","align":"left","dx":4,"font":"DejaVu Sans","fontSize":12.5,"color":"#333"},"encoding":{"x":{"datum":1,"type":"quantitative","axis":null},"y":{"datum":2.1,"type":"quantitative","axis":null},"text":{"field":"t2"}}}
   ]},
  {"width":701,"height":140,
   "layer":[
    {"data":{"name":"introns"},"mark":{"type":"rule","color":"#999","strokeWidth":1},"encoding":{"x":{"field":"s","type":"quantitative","scale":{"domain":[36837141,36837264,36837497,36837572,36850656,36851128],"range":[0,35,44,65.5,565.5,701],"nice":false,"zero":false},"axis":null},"x2":{"field":"e"},"y":{"field":"t","type":"nominal","scale":{"type":"band","domain":["t1","t2"],"paddingInner":0,"paddingOuter":1.0588,"align":0.917},"axis":null}}},
    {"data":{"name":"chev"},"mark":{"type":"point","shape":"M-0.4,-1L0.6,0L-0.4,1","size":25,"filled":false,"color":"#555","strokeWidth":0.8,"opacity":1},"encoding":{"x":{"field":"x","type":"quantitative","axis":null},"y":{"field":"t","type":"nominal","axis":null}}},
    {"data":{"name":"exons"},"mark":{"type":"bar","color":"black","height":12},"encoding":{"x":{"field":"s","type":"quantitative","axis":null},"x2":{"field":"e"},"y":{"field":"t","type":"nominal","axis":null}}},
    {"data":{"name":"vars"},"mark":{"type":"point","shape":"M-0.06,-1L0.06,-1L0.06,0.4L0.28,0.35L0,1L-0.28,0.35L-0.06,0.4Z","size":400,"filled":true,"opacity":1,"yOffset":-14},"encoding":{"x":{"field":"x","type":"quantitative","axis":null},"y":{"field":"t","type":"nominal","axis":null},"color":{"field":"kind","type":"nominal","scale":{"domain":["Two variants following splicing patterns of the five strains, thereafter analyzed by minigene assay","Two variants not following splicing patterns of the five strains"],"range":["#ff3b30","#2b3bff"]},"legend":{"orient":"none","legendX":3,"legendY":698,"title":null,"symbolType":"M-0.06,-1L0.06,-1L0.06,0.4L0.28,0.35L0,1L-0.28,0.35L-0.06,0.4Z","symbolSize":324,"symbolStrokeWidth":0,"labelFont":"Liberation Sans","labelFontSize":19.5,"labelColor":"#111","labelLimit":1000,"labelOffset":10,"rowPadding":13.5}}}}
   ]}
]
}
